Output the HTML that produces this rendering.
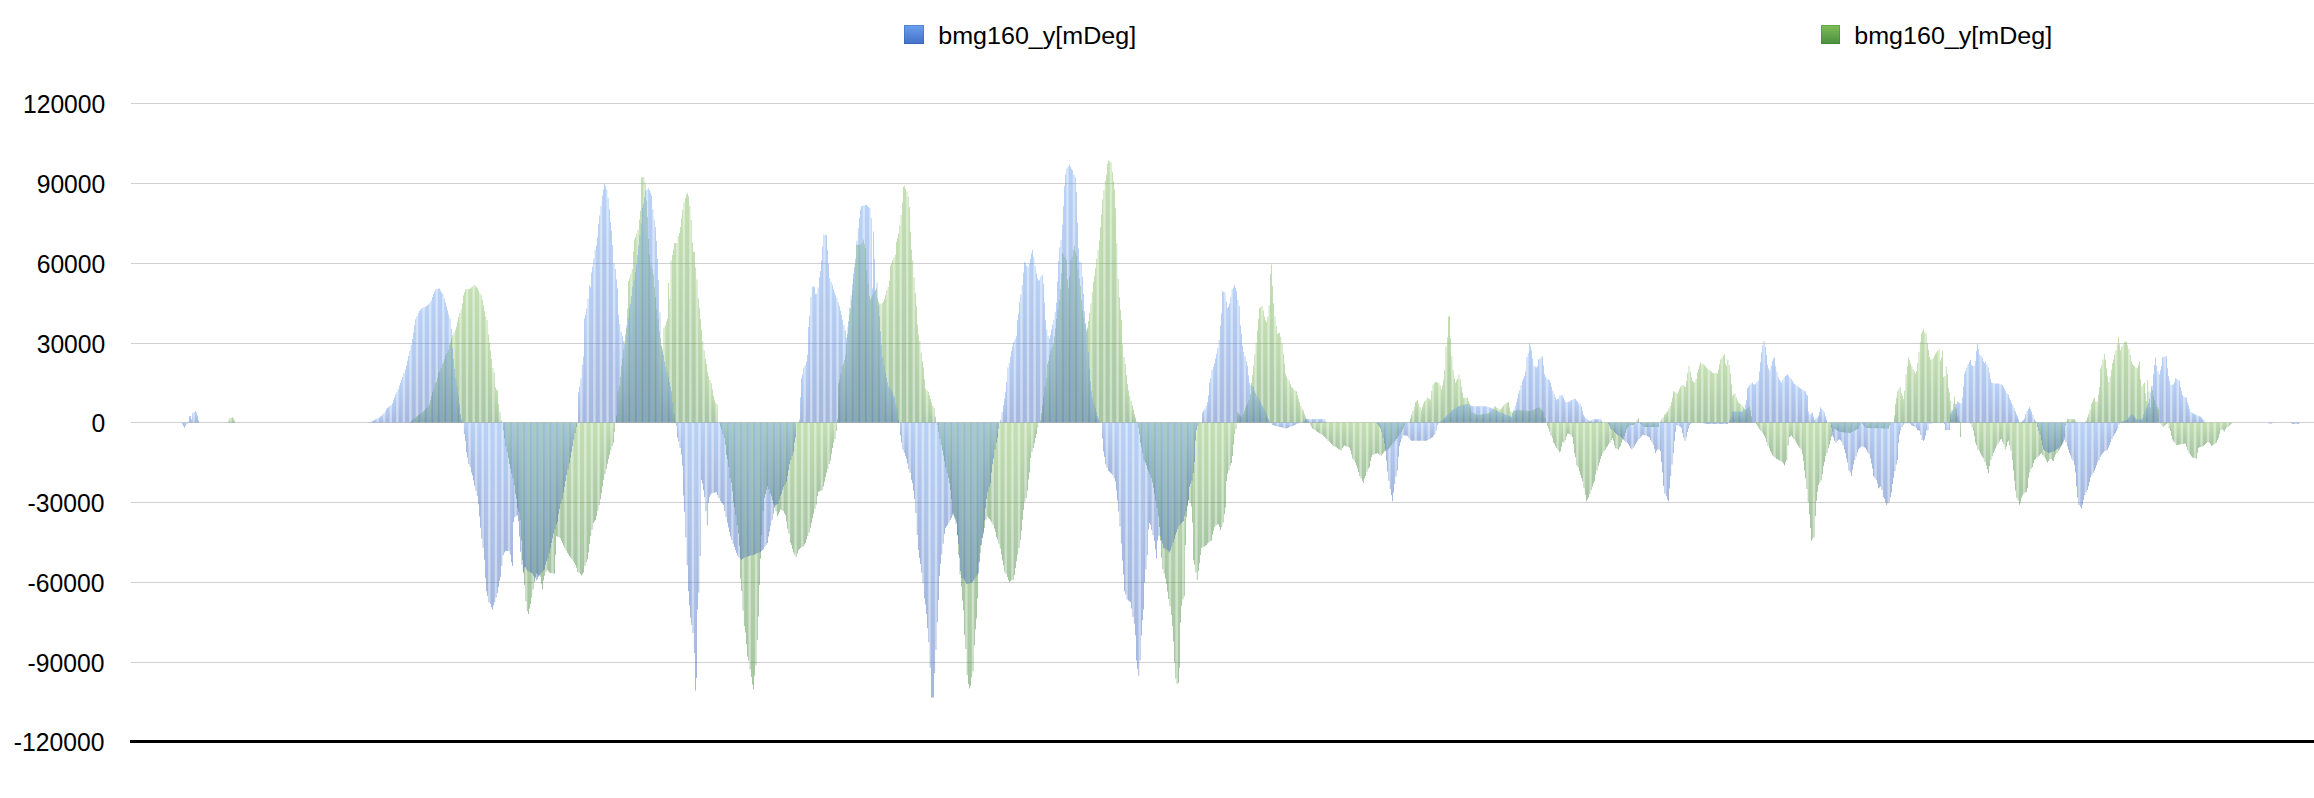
<!DOCTYPE html><html><head><meta charset="utf-8"><title>bmg160_y chart</title><style>html,body{margin:0;padding:0;background:#fff;overflow:hidden}svg{display:block}</style></head><body><svg width="2314" height="798" viewBox="0 0 2314 798"><defs><linearGradient id="bb" x1="0" y1="0" x2="0" y2="1"><stop offset="0" stop-color="#649bec"/><stop offset="1" stop-color="#3660b8"/></linearGradient><linearGradient id="gg" x1="0" y1="0" x2="0" y2="1"><stop offset="0" stop-color="#7db955"/><stop offset="1" stop-color="#3a8032"/></linearGradient><linearGradient id="lb" x1="0" y1="0" x2="0" y2="1"><stop offset="0" stop-color="#6ba0ee"/><stop offset="1" stop-color="#4470c6"/></linearGradient><linearGradient id="lg" x1="0" y1="0" x2="0" y2="1"><stop offset="0" stop-color="#80bc58"/><stop offset="1" stop-color="#4a8e3e"/></linearGradient></defs><rect width="2314" height="798" fill="#fff"/><g fill="#d0d0d0" shape-rendering="crispEdges"><rect x="131" y="103" width="2183" height="1"/><rect x="131" y="183" width="2183" height="1"/><rect x="131" y="263" width="2183" height="1"/><rect x="131" y="343" width="2183" height="1"/><rect x="131" y="422" width="2183" height="1"/><rect x="131" y="502" width="2183" height="1"/><rect x="131" y="582" width="2183" height="1"/><rect x="131" y="662" width="2183" height="1"/></g><g fill="url(#gg)" fill-opacity="1"><path d="M228.5 422.5V420.87h.45V422.5z"/><path d="M229.68 422.5V418h.45V422.5z"/><path d="M230.86 422.5V417.46h.45V422.5z"/><path d="M232.04 422.5V417h.45V422.5z"/><path d="M233.22 422.5V418.44h.45V422.5z"/><path d="M234.4 422.5V420.45h.45V422.5z"/><path d="M410.15 422.5V421.68h.45V422.5z"/><path d="M411.33 422.5V420.69h.45V422.5z"/><path d="M412.51 422.5V419.69h.45V422.5z"/><path d="M413.69 422.5V418.7h.45V422.5z"/><path d="M414.87 422.5V417.7h.45V422.5z"/><path d="M416.05 422.5V416.6h.45V422.5z"/><path d="M417.23 422.5V415.8h.45V422.5z"/><path d="M418.4 422.5V414.91h.45V422.5z"/><path d="M419.58 422.5V414.02h.45V422.5z"/><path d="M420.76 422.5V413.13h.45V422.5z"/><path d="M421.94 422.5V412.23h.45V422.5z"/><path d="M423.12 422.5V411.3h.45V422.5z"/><path d="M424.3 422.5V410.19h.45V422.5z"/><path d="M425.48 422.5V409.04h.45V422.5z"/><path d="M426.66 422.5V407.88h.45V422.5z"/><path d="M427.84 422.5V406.72h.45V422.5z"/><path d="M429.02 422.5V404.18h.45V422.5z"/><path d="M430.2 422.5V400.04h.45V422.5z"/><path d="M431.38 422.5V395.89h.45V422.5z"/><path d="M432.56 422.5V392.05h.45V422.5z"/><path d="M433.74 422.5V388.51h.45V422.5z"/><path d="M434.92 422.5V383.3h.45V422.5z"/><path d="M436.1 422.5V381.41h.45V422.5z"/><path d="M437.28 422.5V377.84h.45V422.5z"/><path d="M438.46 422.5V372.7h.45V422.5z"/><path d="M439.64 422.5V371.06h.45V422.5z"/><path d="M440.82 422.5V368.12h.45V422.5z"/><path d="M442 422.5V364h.45V422.5z"/><path d="M443.17 422.5V362.24h.45V422.5z"/><path d="M444.35 422.5V359.27h.45V422.5z"/><path d="M445.53 422.5V355.2h.45V422.5z"/><path d="M446.71 422.5V353.05h.45V422.5z"/><path d="M447.89 422.5V349.61h.45V422.5z"/><path d="M449.07 422.5V344.7h.45V422.5z"/><path d="M450.25 422.5V342.41h.45V422.5z"/><path d="M451.43 422.5V338.42h.45V422.5z"/><path d="M452.61 422.5V335.03h.45V422.5z"/><path d="M453.79 422.5V332.67h.45V422.5z"/><path d="M454.97 422.5V330.31h.45V422.5z"/><path d="M456.15 422.5V326.82h.45V422.5z"/><path d="M457.33 422.5V321.65h.45V422.5z"/><path d="M458.51 422.5V316.74h.45V422.5z"/><path d="M459.69 422.5V312.89h.45V422.5z"/><path d="M460.87 422.5V308.7h.45V422.5z"/><path d="M462.05 422.5V303.26h.45V422.5z"/><path d="M463.23 422.5V295.5h.45V422.5z"/><path d="M464.41 422.5V292.52h.45V422.5z"/><path d="M465.59 422.5V289.35h.45V422.5z"/><path d="M466.77 422.5V289.15h.45V422.5z"/><path d="M467.95 422.5V288.95h.45V422.5z"/><path d="M469.12 422.5V288.75h.45V422.5z"/><path d="M470.3 422.5V288.5h.45V422.5z"/><path d="M471.48 422.5V287.59h.45V422.5z"/><path d="M472.66 422.5V286.41h.45V422.5z"/><path d="M473.84 422.5V285h.45V422.5z"/><path d="M475.02 422.5V285.95h.45V422.5z"/><path d="M476.2 422.5V287.13h.45V422.5z"/><path d="M477.38 422.5V288.31h.45V422.5z"/><path d="M478.56 422.5V290.47h.45V422.5z"/><path d="M479.74 422.5V292.83h.45V422.5z"/><path d="M480.92 422.5V295.19h.45V422.5z"/><path d="M482.1 422.5V300.17h.45V422.5z"/><path d="M483.28 422.5V305.54h.45V422.5z"/><path d="M484.46 422.5V311.03h.45V422.5z"/><path d="M485.64 422.5V316.61h.45V422.5z"/><path d="M486.82 422.5V320.1h.45V422.5z"/><path d="M488 422.5V334.34h.45V422.5z"/><path d="M489.18 422.5V342.64h.45V422.5z"/><path d="M490.36 422.5V350.58h.45V422.5z"/><path d="M491.54 422.5V359.05h.45V422.5z"/><path d="M492.72 422.5V367.8h.45V422.5z"/><path d="M493.89 422.5V372.7h.45V422.5z"/><path d="M495.07 422.5V387.62h.45V422.5z"/><path d="M496.25 422.5V389.64h.45V422.5z"/><path d="M497.43 422.5V390.3h.45V422.5z"/><path d="M498.61 422.5V403.82h.45V422.5z"/><path d="M499.79 422.5V412.12h.45V422.5z"/><path d="M500.97 422.5V420.38h.45V422.5z"/><path d="M503.33 422.5V430.36h.45V422.5z"/><path d="M504.51 422.5V438.38h.45V422.5z"/><path d="M505.69 422.5V446.38h.45V422.5z"/><path d="M506.87 422.5V452.31h.45V422.5z"/><path d="M508.05 422.5V458.24h.45V422.5z"/><path d="M509.23 422.5V464.12h.45V422.5z"/><path d="M510.41 422.5V468.83h.45V422.5z"/><path d="M511.59 422.5V473.55h.45V422.5z"/><path d="M512.77 422.5V478.44h.45V422.5z"/><path d="M513.95 422.5V485.34h.45V422.5z"/><path d="M515.13 422.5V493.7h.45V422.5z"/><path d="M516.31 422.5V498.71h.45V422.5z"/><path d="M517.49 422.5V507.7h.45V422.5z"/><path d="M518.67 422.5V511.76h.45V422.5z"/><path d="M519.84 422.5V519.67h.45V422.5z"/><path d="M521.02 422.5V540.49h.45V422.5z"/><path d="M522.2 422.5V560h.45V422.5z"/><path d="M523.38 422.5V573.2h.45V422.5z"/><path d="M524.56 422.5V585.1h.45V422.5z"/><path d="M525.74 422.5V601.41h.45V422.5z"/><path d="M526.92 422.5V611.3h.45V422.5z"/><path d="M528.1 422.5V614h.45V422.5z"/><path d="M529.28 422.5V608.41h.45V422.5z"/><path d="M530.46 422.5V604h.45V422.5z"/><path d="M531.64 422.5V597.74h.45V422.5z"/><path d="M532.82 422.5V589.59h.45V422.5z"/><path d="M534 422.5V582.3h.45V422.5z"/><path d="M535.18 422.5V577.57h.45V422.5z"/><path d="M536.36 422.5V573.59h.45V422.5z"/><path d="M537.54 422.5V574.26h.45V422.5z"/><path d="M538.72 422.5V575.44h.45V422.5z"/><path d="M539.9 422.5V576.8h.45V422.5z"/><path d="M541.08 422.5V583.86h.45V422.5z"/><path d="M542.26 422.5V589.5h.45V422.5z"/><path d="M543.44 422.5V580.55h.45V422.5z"/><path d="M544.61 422.5V575.77h.45V422.5z"/><path d="M545.79 422.5V571.79h.45V422.5z"/><path d="M546.97 422.5V570.01h.45V422.5z"/><path d="M548.15 422.5V571.23h.45V422.5z"/><path d="M549.33 422.5V572.44h.45V422.5z"/><path d="M550.51 422.5V573.2h.45V422.5z"/><path d="M551.69 422.5V573.2h.45V422.5z"/><path d="M552.87 422.5V573.25h.45V422.5z"/><path d="M554.05 422.5V574h.45V422.5z"/><path d="M555.23 422.5V555h.45V422.5z"/><path d="M556.41 422.5V536.24h.45V422.5z"/><path d="M557.59 422.5V536.67h.45V422.5z"/><path d="M558.77 422.5V537.3h.45V422.5z"/><path d="M559.95 422.5V538.6h.45V422.5z"/><path d="M561.13 422.5V540.89h.45V422.5z"/><path d="M562.31 422.5V543.3h.45V422.5z"/><path d="M563.49 422.5V545.58h.45V422.5z"/><path d="M564.67 422.5V547.99h.45V422.5z"/><path d="M565.85 422.5V550.4h.45V422.5z"/><path d="M567.03 422.5V552.65h.45V422.5z"/><path d="M568.21 422.5V554.3h.45V422.5z"/><path d="M569.39 422.5V555.94h.45V422.5z"/><path d="M570.56 422.5V557.6h.45V422.5z"/><path d="M571.74 422.5V559.37h.45V422.5z"/><path d="M572.92 422.5V561.15h.45V422.5z"/><path d="M574.1 422.5V562.93h.45V422.5z"/><path d="M575.28 422.5V564.92h.45V422.5z"/><path d="M576.46 422.5V567.87h.45V422.5z"/><path d="M577.64 422.5V571.9h.45V422.5z"/><path d="M578.82 422.5V572.71h.45V422.5z"/><path d="M580 422.5V574h.45V422.5z"/><path d="M581.18 422.5V575.6h.45V422.5z"/><path d="M582.36 422.5V574.2h.45V422.5z"/><path d="M583.54 422.5V572.6h.45V422.5z"/><path d="M584.72 422.5V565.79h.45V422.5z"/><path d="M585.9 422.5V562.33h.45V422.5z"/><path d="M587.08 422.5V559.25h.45V422.5z"/><path d="M588.26 422.5V552.5h.45V422.5z"/><path d="M589.44 422.5V543.76h.45V422.5z"/><path d="M590.62 422.5V536.04h.45V422.5z"/><path d="M591.8 422.5V529.8h.45V422.5z"/><path d="M592.98 422.5V523h.45V422.5z"/><path d="M594.16 422.5V521.41h.45V422.5z"/><path d="M595.33 422.5V520.05h.45V422.5z"/><path d="M596.51 422.5V516.05h.45V422.5z"/><path d="M597.69 422.5V510.8h.45V422.5z"/><path d="M598.87 422.5V505.03h.45V422.5z"/><path d="M600.05 422.5V499.26h.45V422.5z"/><path d="M601.23 422.5V493.02h.45V422.5z"/><path d="M602.41 422.5V486.52h.45V422.5z"/><path d="M603.59 422.5V480.01h.45V422.5z"/><path d="M604.77 422.5V474.31h.45V422.5z"/><path d="M605.95 422.5V468.98h.45V422.5z"/><path d="M607.13 422.5V463.66h.45V422.5z"/><path d="M608.31 422.5V459.06h.45V422.5z"/><path d="M609.49 422.5V454.77h.45V422.5z"/><path d="M610.67 422.5V450.47h.45V422.5z"/><path d="M611.85 422.5V446.17h.45V422.5z"/><path d="M613.03 422.5V442.8h.45V422.5z"/><path d="M614.21 422.5V431.62h.45V422.5z"/><path d="M616.57 422.5V415.47h.45V422.5z"/><path d="M617.75 422.5V391.3h.45V422.5z"/><path d="M618.93 422.5V386.12h.45V422.5z"/><path d="M620.1 422.5V376.72h.45V422.5z"/><path d="M621.28 422.5V365.8h.45V422.5z"/><path d="M622.46 422.5V358.54h.45V422.5z"/><path d="M623.64 422.5V349.87h.45V422.5z"/><path d="M624.82 422.5V340.87h.45V422.5z"/><path d="M626 422.5V328h.45V422.5z"/><path d="M627.18 422.5V308.85h.45V422.5z"/><path d="M628.36 422.5V281.06h.45V422.5z"/><path d="M629.54 422.5V278.41h.45V422.5z"/><path d="M630.72 422.5V273.85h.45V422.5z"/><path d="M631.9 422.5V269h.45V422.5z"/><path d="M633.08 422.5V251.45h.45V422.5z"/><path d="M634.26 422.5V239.46h.45V422.5z"/><path d="M635.44 422.5V236.9h.45V422.5z"/><path d="M636.62 422.5V233.82h.45V422.5z"/><path d="M637.8 422.5V229.7h.45V422.5z"/><path d="M638.98 422.5V219.3h.45V422.5z"/><path d="M640.16 422.5V210.83h.45V422.5z"/><path d="M641.34 422.5V177.2h.45V422.5z"/><path d="M642.52 422.5V177.2h.45V422.5z"/><path d="M643.7 422.5V177.2h.45V422.5z"/><path d="M644.88 422.5V182.4h.45V422.5z"/><path d="M646.05 422.5V200.49h.45V422.5z"/><path d="M647.23 422.5V216.7h.45V422.5z"/><path d="M648.41 422.5V238.96h.45V422.5z"/><path d="M649.59 422.5V254.63h.45V422.5z"/><path d="M650.77 422.5V265.7h.45V422.5z"/><path d="M651.95 422.5V269.05h.45V422.5z"/><path d="M653.13 422.5V274.6h.45V422.5z"/><path d="M654.31 422.5V287.37h.45V422.5z"/><path d="M655.49 422.5V296.92h.45V422.5z"/><path d="M656.67 422.5V308.71h.45V422.5z"/><path d="M657.85 422.5V318.9h.45V422.5z"/><path d="M659.03 422.5V331.28h.45V422.5z"/><path d="M660.21 422.5V338.1h.45V422.5z"/><path d="M661.39 422.5V345.87h.45V422.5z"/><path d="M662.57 422.5V348.7h.45V422.5z"/><path d="M663.75 422.5V327.4h.45V422.5z"/><path d="M664.93 422.5V325.14h.45V422.5z"/><path d="M666.11 422.5V322h.45V422.5z"/><path d="M667.29 422.5V318.63h.45V422.5z"/><path d="M668.47 422.5V283h.45V422.5z"/><path d="M669.65 422.5V299.04h.45V422.5z"/><path d="M670.82 422.5V260.2h.45V422.5z"/><path d="M672 422.5V255h.45V422.5z"/><path d="M673.18 422.5V249.61h.45V422.5z"/><path d="M674.36 422.5V243h.45V422.5z"/><path d="M675.54 422.5V243h.45V422.5z"/><path d="M676.72 422.5V243h.45V422.5z"/><path d="M677.9 422.5V236h.45V422.5z"/><path d="M679.08 422.5V232.97h.45V422.5z"/><path d="M680.26 422.5V227h.45V422.5z"/><path d="M681.44 422.5V217.93h.45V422.5z"/><path d="M682.62 422.5V209.66h.45V422.5z"/><path d="M683.8 422.5V202.5h.45V422.5z"/><path d="M684.98 422.5V197.92h.45V422.5z"/><path d="M686.16 422.5V194.52h.45V422.5z"/><path d="M687.34 422.5V193h.45V422.5z"/><path d="M688.52 422.5V196.23h.45V422.5z"/><path d="M689.7 422.5V205.67h.45V422.5z"/><path d="M690.88 422.5V220h.45V422.5z"/><path d="M692.06 422.5V242.64h.45V422.5z"/><path d="M693.24 422.5V251.8h.45V422.5z"/><path d="M694.42 422.5V251.8h.45V422.5z"/><path d="M695.6 422.5V267.6h.45V422.5z"/><path d="M696.77 422.5V279.6h.45V422.5z"/><path d="M697.95 422.5V298.13h.45V422.5z"/><path d="M699.13 422.5V307.8h.45V422.5z"/><path d="M700.31 422.5V318.99h.45V422.5z"/><path d="M701.49 422.5V329.73h.45V422.5z"/><path d="M702.67 422.5V340.89h.45V422.5z"/><path d="M703.85 422.5V350.25h.45V422.5z"/><path d="M705.03 422.5V358.68h.45V422.5z"/><path d="M706.21 422.5V364h.45V422.5z"/><path d="M707.39 422.5V371.58h.45V422.5z"/><path d="M708.57 422.5V376.2h.45V422.5z"/><path d="M709.75 422.5V379.95h.45V422.5z"/><path d="M710.93 422.5V383.17h.45V422.5z"/><path d="M712.11 422.5V389.4h.45V422.5z"/><path d="M713.29 422.5V395.75h.45V422.5z"/><path d="M714.47 422.5V399.61h.45V422.5z"/><path d="M715.65 422.5V402.67h.45V422.5z"/><path d="M716.83 422.5V404.3h.45V422.5z"/><path d="M719.19 422.5V423.31h.45V422.5z"/><path d="M720.37 422.5V426.39h.45V422.5z"/><path d="M721.54 422.5V429.48h.45V422.5z"/><path d="M722.72 422.5V434h.45V422.5z"/><path d="M723.9 422.5V437.77h.45V422.5z"/><path d="M725.08 422.5V444.85h.45V422.5z"/><path d="M726.26 422.5V455h.45V422.5z"/><path d="M727.44 422.5V459.37h.45V422.5z"/><path d="M728.62 422.5V467.08h.45V422.5z"/><path d="M729.8 422.5V477.9h.45V422.5z"/><path d="M730.98 422.5V482.86h.45V422.5z"/><path d="M732.16 422.5V491.15h.45V422.5z"/><path d="M733.34 422.5V502.5h.45V422.5z"/><path d="M734.52 422.5V507.35h.45V422.5z"/><path d="M735.7 422.5V515.03h.45V422.5z"/><path d="M736.88 422.5V525.3h.45V422.5z"/><path d="M738.06 422.5V533.45h.45V422.5z"/><path d="M739.24 422.5V545.73h.45V422.5z"/><path d="M740.42 422.5V578.6h.45V422.5z"/><path d="M741.6 422.5V590.99h.45V422.5z"/><path d="M742.78 422.5V610.42h.45V422.5z"/><path d="M743.96 422.5V625.9h.45V422.5z"/><path d="M745.14 422.5V632.54h.45V422.5z"/><path d="M746.31 422.5V644.28h.45V422.5z"/><path d="M747.49 422.5V656.7h.45V422.5z"/><path d="M748.67 422.5V660.74h.45V422.5z"/><path d="M749.85 422.5V669.5h.45V422.5z"/><path d="M751.03 422.5V676.97h.45V422.5z"/><path d="M752.21 422.5V684.62h.45V422.5z"/><path d="M753.39 422.5V689.4h.45V422.5z"/><path d="M754.57 422.5V675.7h.45V422.5z"/><path d="M755.75 422.5V665.6h.45V422.5z"/><path d="M756.93 422.5V639.91h.45V422.5z"/><path d="M758.11 422.5V616.5h.45V422.5z"/><path d="M759.29 422.5V585.12h.45V422.5z"/><path d="M760.47 422.5V558.77h.45V422.5z"/><path d="M761.65 422.5V535.19h.45V422.5z"/><path d="M762.83 422.5V511.14h.45V422.5z"/><path d="M764.01 422.5V497.65h.45V422.5z"/><path d="M765.19 422.5V493.7h.45V422.5z"/><path d="M766.37 422.5V489.77h.45V422.5z"/><path d="M767.55 422.5V486.19h.45V422.5z"/><path d="M768.73 422.5V488.99h.45V422.5z"/><path d="M769.91 422.5V493.7h.45V422.5z"/><path d="M771.09 422.5V496.28h.45V422.5z"/><path d="M772.26 422.5V500.03h.45V422.5z"/><path d="M773.44 422.5V503.78h.45V422.5z"/><path d="M774.62 422.5V507.7h.45V422.5z"/><path d="M775.8 422.5V511.3h.45V422.5z"/><path d="M776.98 422.5V516h.45V422.5z"/><path d="M778.16 422.5V514.23h.45V422.5z"/><path d="M779.34 422.5V511.87h.45V422.5z"/><path d="M780.52 422.5V509.51h.45V422.5z"/><path d="M781.7 422.5V509.93h.45V422.5z"/><path d="M782.88 422.5V511.18h.45V422.5z"/><path d="M784.06 422.5V513.14h.45V422.5z"/><path d="M785.24 422.5V515.33h.45V422.5z"/><path d="M786.42 422.5V521.36h.45V422.5z"/><path d="M787.6 422.5V528.8h.45V422.5z"/><path d="M788.78 422.5V533.66h.45V422.5z"/><path d="M789.96 422.5V542.8h.45V422.5z"/><path d="M791.14 422.5V545.04h.45V422.5z"/><path d="M792.32 422.5V549.03h.45V422.5z"/><path d="M793.5 422.5V552.43h.45V422.5z"/><path d="M794.68 422.5V554.74h.45V422.5z"/><path d="M795.86 422.5V556.9h.45V422.5z"/><path d="M797.03 422.5V553.46h.45V422.5z"/><path d="M798.21 422.5V550.24h.45V422.5z"/><path d="M799.39 422.5V548.99h.45V422.5z"/><path d="M800.57 422.5V548.05h.45V422.5z"/><path d="M801.75 422.5V547.11h.45V422.5z"/><path d="M802.93 422.5V546.3h.45V422.5z"/><path d="M804.11 422.5V544.5h.45V422.5z"/><path d="M805.29 422.5V542.91h.45V422.5z"/><path d="M806.47 422.5V539.51h.45V422.5z"/><path d="M807.65 422.5V535.97h.45V422.5z"/><path d="M808.83 422.5V532.43h.45V422.5z"/><path d="M810.01 422.5V527.76h.45V422.5z"/><path d="M811.19 422.5V523.04h.45V422.5z"/><path d="M812.37 422.5V518.32h.45V422.5z"/><path d="M813.55 422.5V513.7h.45V422.5z"/><path d="M814.73 422.5V509.08h.45V422.5z"/><path d="M815.91 422.5V504.46h.45V422.5z"/><path d="M817.09 422.5V496.15h.45V422.5z"/><path d="M818.27 422.5V491.67h.45V422.5z"/><path d="M819.45 422.5V491.22h.45V422.5z"/><path d="M820.63 422.5V490.76h.45V422.5z"/><path d="M821.81 422.5V490.3h.45V422.5z"/><path d="M822.98 422.5V486.53h.45V422.5z"/><path d="M824.16 422.5V481.76h.45V422.5z"/><path d="M825.34 422.5V477.07h.45V422.5z"/><path d="M826.52 422.5V472.44h.45V422.5z"/><path d="M827.7 422.5V469.1h.45V422.5z"/><path d="M828.88 422.5V464.06h.45V422.5z"/><path d="M830.06 422.5V460.4h.45V422.5z"/><path d="M831.24 422.5V453.84h.45V422.5z"/><path d="M832.42 422.5V447.95h.45V422.5z"/><path d="M833.6 422.5V442.8h.45V422.5z"/><path d="M834.78 422.5V438.96h.45V422.5z"/><path d="M835.96 422.5V430.65h.45V422.5z"/><path d="M837.14 422.5V418.93h.45V422.5z"/><path d="M838.32 422.5V383.3h.45V422.5z"/><path d="M839.5 422.5V379.66h.45V422.5z"/><path d="M840.68 422.5V373.73h.45V422.5z"/><path d="M841.86 422.5V365.7h.45V422.5z"/><path d="M843.04 422.5V363.41h.45V422.5z"/><path d="M844.22 422.5V359.88h.45V422.5z"/><path d="M845.4 422.5V355.2h.45V422.5z"/><path d="M846.58 422.5V342.82h.45V422.5z"/><path d="M847.75 422.5V326.71h.45V422.5z"/><path d="M848.93 422.5V314.8h.45V422.5z"/><path d="M850.11 422.5V308.73h.45V422.5z"/><path d="M851.29 422.5V300.34h.45V422.5z"/><path d="M852.47 422.5V290.3h.45V422.5z"/><path d="M853.65 422.5V278.89h.45V422.5z"/><path d="M854.83 422.5V263.56h.45V422.5z"/><path d="M856.01 422.5V244.8h.45V422.5z"/><path d="M857.19 422.5V244.8h.45V422.5z"/><path d="M858.37 422.5V244.8h.45V422.5z"/><path d="M859.55 422.5V244.8h.45V422.5z"/><path d="M860.73 422.5V244.69h.45V422.5z"/><path d="M861.91 422.5V242.28h.45V422.5z"/><path d="M863.09 422.5V239.5h.45V422.5z"/><path d="M864.27 422.5V244.36h.45V422.5z"/><path d="M865.45 422.5V248.3h.45V422.5z"/><path d="M866.63 422.5V270.67h.45V422.5z"/><path d="M867.81 422.5V283.5h.45V422.5z"/><path d="M868.99 422.5V295.73h.45V422.5z"/><path d="M870.17 422.5V299.41h.45V422.5z"/><path d="M871.35 422.5V297.03h.45V422.5z"/><path d="M872.53 422.5V294.65h.45V422.5z"/><path d="M873.7 422.5V292.27h.45V422.5z"/><path d="M874.88 422.5V289.89h.45V422.5z"/><path d="M876.06 422.5V288.5h.45V422.5z"/><path d="M877.24 422.5V298.23h.45V422.5z"/><path d="M878.42 422.5V301.14h.45V422.5z"/><path d="M879.6 422.5V303.54h.45V422.5z"/><path d="M880.78 422.5V303.74h.45V422.5z"/><path d="M881.96 422.5V302.92h.45V422.5z"/><path d="M883.14 422.5V301.4h.45V422.5z"/><path d="M884.32 422.5V299h.45V422.5z"/><path d="M885.5 422.5V295.24h.45V422.5z"/><path d="M886.68 422.5V290.3h.45V422.5z"/><path d="M887.86 422.5V286.91h.45V422.5z"/><path d="M889.04 422.5V280.67h.45V422.5z"/><path d="M890.22 422.5V265.8h.45V422.5z"/><path d="M891.4 422.5V263.41h.45V422.5z"/><path d="M892.58 422.5V260.35h.45V422.5z"/><path d="M893.76 422.5V257.6h.45V422.5z"/><path d="M894.94 422.5V254.72h.45V422.5z"/><path d="M896.12 422.5V242.1h.45V422.5z"/><path d="M897.3 422.5V238.26h.45V422.5z"/><path d="M898.47 422.5V233.58h.45V422.5z"/><path d="M899.65 422.5V225.5h.45V422.5z"/><path d="M900.83 422.5V215h.45V422.5z"/><path d="M902.01 422.5V202.6h.45V422.5z"/><path d="M903.19 422.5V186.8h.45V422.5z"/><path d="M904.37 422.5V186h.45V422.5z"/><path d="M905.55 422.5V188.99h.45V422.5z"/><path d="M906.73 422.5V191.2h.45V422.5z"/><path d="M907.91 422.5V196.84h.45V422.5z"/><path d="M909.09 422.5V207.05h.45V422.5z"/><path d="M910.27 422.5V231.83h.45V422.5z"/><path d="M911.45 422.5V249.51h.45V422.5z"/><path d="M912.63 422.5V260.5h.45V422.5z"/><path d="M913.81 422.5V277.2h.45V422.5z"/><path d="M914.99 422.5V293.08h.45V422.5z"/><path d="M916.17 422.5V306h.45V422.5z"/><path d="M917.35 422.5V324.49h.45V422.5z"/><path d="M918.53 422.5V334.67h.45V422.5z"/><path d="M919.71 422.5V341.1h.45V422.5z"/><path d="M920.89 422.5V352.8h.45V422.5z"/><path d="M922.07 422.5V361.28h.45V422.5z"/><path d="M923.24 422.5V367.5h.45V422.5z"/><path d="M924.42 422.5V379.21h.45V422.5z"/><path d="M925.6 422.5V388.5h.45V422.5z"/><path d="M926.78 422.5V390.13h.45V422.5z"/><path d="M927.96 422.5V391.71h.45V422.5z"/><path d="M929.14 422.5V395.15h.45V422.5z"/><path d="M930.32 422.5V399h.45V422.5z"/><path d="M931.5 422.5V402.49h.45V422.5z"/><path d="M932.68 422.5V405.66h.45V422.5z"/><path d="M933.86 422.5V407.8h.45V422.5z"/><path d="M935.04 422.5V416.65h.45V422.5z"/><path d="M937.4 422.5V424.96h.45V422.5z"/><path d="M938.58 422.5V431.8h.45V422.5z"/><path d="M939.76 422.5V438.64h.45V422.5z"/><path d="M940.94 422.5V444.89h.45V422.5z"/><path d="M942.12 422.5V450.21h.45V422.5z"/><path d="M943.3 422.5V455.54h.45V422.5z"/><path d="M944.48 422.5V461.2h.45V422.5z"/><path d="M945.66 422.5V467.32h.45V422.5z"/><path d="M946.84 422.5V473.25h.45V422.5z"/><path d="M948.02 422.5V478.06h.45V422.5z"/><path d="M949.19 422.5V483.2h.45V422.5z"/><path d="M950.37 422.5V489.88h.45V422.5z"/><path d="M951.55 422.5V499h.45V422.5z"/><path d="M952.73 422.5V513h.45V422.5z"/><path d="M953.91 422.5V516.35h.45V422.5z"/><path d="M955.09 422.5V519.37h.45V422.5z"/><path d="M956.27 422.5V521.8h.45V422.5z"/><path d="M957.45 422.5V535.53h.45V422.5z"/><path d="M958.63 422.5V555h.45V422.5z"/><path d="M959.81 422.5V574.57h.45V422.5z"/><path d="M960.99 422.5V586.47h.45V422.5z"/><path d="M962.17 422.5V600.4h.45V422.5z"/><path d="M963.35 422.5V610.25h.45V422.5z"/><path d="M964.53 422.5V635h.45V422.5z"/><path d="M965.71 422.5V649.04h.45V422.5z"/><path d="M966.89 422.5V675h.45V422.5z"/><path d="M968.07 422.5V683.91h.45V422.5z"/><path d="M969.25 422.5V688.5h.45V422.5z"/><path d="M970.43 422.5V686.01h.45V422.5z"/><path d="M971.61 422.5V677.5h.45V422.5z"/><path d="M972.79 422.5V671.3h.45V422.5z"/><path d="M973.96 422.5V645.6h.45V422.5z"/><path d="M975.14 422.5V629.49h.45V422.5z"/><path d="M976.32 422.5V618.6h.45V422.5z"/><path d="M977.5 422.5V598.6h.45V422.5z"/><path d="M978.68 422.5V562.93h.45V422.5z"/><path d="M979.86 422.5V553.29h.45V422.5z"/><path d="M981.04 422.5V544.93h.45V422.5z"/><path d="M982.22 422.5V538.32h.45V422.5z"/><path d="M983.4 422.5V531.75h.45V422.5z"/><path d="M984.58 422.5V528h.45V422.5z"/><path d="M985.76 422.5V519.57h.45V422.5z"/><path d="M986.94 422.5V516.83h.45V422.5z"/><path d="M988.12 422.5V517.84h.45V422.5z"/><path d="M989.3 422.5V519.04h.45V422.5z"/><path d="M990.48 422.5V520.79h.45V422.5z"/><path d="M991.66 422.5V522.54h.45V422.5z"/><path d="M992.84 422.5V524.98h.45V422.5z"/><path d="M994.02 422.5V528.49h.45V422.5z"/><path d="M995.2 422.5V532h.45V422.5z"/><path d="M996.38 422.5V537h.45V422.5z"/><path d="M997.56 422.5V539.51h.45V422.5z"/><path d="M998.74 422.5V543.86h.45V422.5z"/><path d="M999.91 422.5V548.43h.45V422.5z"/><path d="M1001.09 422.5V554.58h.45V422.5z"/><path d="M1002.27 422.5V560.49h.45V422.5z"/><path d="M1003.45 422.5V565.21h.45V422.5z"/><path d="M1004.63 422.5V571.7h.45V422.5z"/><path d="M1005.81 422.5V573.76h.45V422.5z"/><path d="M1006.99 422.5V577.05h.45V422.5z"/><path d="M1008.17 422.5V580.34h.45V422.5z"/><path d="M1009.35 422.5V582.3h.45V422.5z"/><path d="M1010.53 422.5V581.16h.45V422.5z"/><path d="M1011.71 422.5V580.35h.45V422.5z"/><path d="M1012.89 422.5V579.53h.45V422.5z"/><path d="M1014.07 422.5V575.04h.45V422.5z"/><path d="M1015.25 422.5V567.96h.45V422.5z"/><path d="M1016.43 422.5V561.2h.45V422.5z"/><path d="M1017.61 422.5V554.42h.45V422.5z"/><path d="M1018.79 422.5V547.93h.45V422.5z"/><path d="M1019.97 422.5V540.04h.45V422.5z"/><path d="M1021.15 422.5V530.76h.45V422.5z"/><path d="M1022.33 422.5V519.4h.45V422.5z"/><path d="M1023.51 422.5V510h.45V422.5z"/><path d="M1024.68 422.5V501.76h.45V422.5z"/><path d="M1025.86 422.5V498h.45V422.5z"/><path d="M1027.04 422.5V490.5h.45V422.5z"/><path d="M1028.22 422.5V479.53h.45V422.5z"/><path d="M1029.4 422.5V472.6h.45V422.5z"/><path d="M1030.58 422.5V457.94h.45V422.5z"/><path d="M1031.76 422.5V452.1h.45V422.5z"/><path d="M1032.94 422.5V448.11h.45V422.5z"/><path d="M1034.12 422.5V443.36h.45V422.5z"/><path d="M1035.3 422.5V437.98h.45V422.5z"/><path d="M1036.48 422.5V434h.45V422.5z"/><path d="M1037.66 422.5V427.43h.45V422.5z"/><path d="M1040.02 422.5V420.33h.45V422.5z"/><path d="M1041.2 422.5V412.89h.45V422.5z"/><path d="M1042.38 422.5V405.34h.45V422.5z"/><path d="M1043.56 422.5V396.58h.45V422.5z"/><path d="M1044.74 422.5V386.8h.45V422.5z"/><path d="M1045.92 422.5V378.01h.45V422.5z"/><path d="M1047.1 422.5V364h.45V422.5z"/><path d="M1048.28 422.5V360.69h.45V422.5z"/><path d="M1049.46 422.5V355.11h.45V422.5z"/><path d="M1050.63 422.5V350.46h.45V422.5z"/><path d="M1051.81 422.5V347.29h.45V422.5z"/><path d="M1052.99 422.5V343.42h.45V422.5z"/><path d="M1054.17 422.5V336.52h.45V422.5z"/><path d="M1055.35 422.5V328.38h.45V422.5z"/><path d="M1056.53 422.5V318.94h.45V422.5z"/><path d="M1057.71 422.5V309.51h.45V422.5z"/><path d="M1058.89 422.5V300.07h.45V422.5z"/><path d="M1060.07 422.5V289.06h.45V422.5z"/><path d="M1061.25 422.5V273.33h.45V422.5z"/><path d="M1062.43 422.5V253h.45V422.5z"/><path d="M1063.61 422.5V254.67h.45V422.5z"/><path d="M1064.79 422.5V257.03h.45V422.5z"/><path d="M1065.97 422.5V259.39h.45V422.5z"/><path d="M1067.15 422.5V279.21h.45V422.5z"/><path d="M1068.33 422.5V287.79h.45V422.5z"/><path d="M1069.51 422.5V276.67h.45V422.5z"/><path d="M1070.69 422.5V260h.45V422.5z"/><path d="M1071.87 422.5V256.69h.45V422.5z"/><path d="M1073.05 422.5V250.08h.45V422.5z"/><path d="M1074.23 422.5V246h.45V422.5z"/><path d="M1075.4 422.5V252.52h.45V422.5z"/><path d="M1076.58 422.5V256h.45V422.5z"/><path d="M1077.76 422.5V268.76h.45V422.5z"/><path d="M1078.94 422.5V278.87h.45V422.5z"/><path d="M1080.12 422.5V286h.45V422.5z"/><path d="M1081.3 422.5V299.75h.45V422.5z"/><path d="M1082.48 422.5V310.36h.45V422.5z"/><path d="M1083.66 422.5V318.07h.45V422.5z"/><path d="M1084.84 422.5V324.81h.45V422.5z"/><path d="M1086.02 422.5V331.55h.45V422.5z"/><path d="M1087.2 422.5V327.71h.45V422.5z"/><path d="M1088.38 422.5V320.97h.45V422.5z"/><path d="M1089.56 422.5V313h.45V422.5z"/><path d="M1090.74 422.5V303.49h.45V422.5z"/><path d="M1091.92 422.5V291.85h.45V422.5z"/><path d="M1093.1 422.5V281.77h.45V422.5z"/><path d="M1094.28 422.5V275.82h.45V422.5z"/><path d="M1095.46 422.5V268.27h.45V422.5z"/><path d="M1096.64 422.5V258.8h.45V422.5z"/><path d="M1097.82 422.5V249.93h.45V422.5z"/><path d="M1099 422.5V240.44h.45V422.5z"/><path d="M1100.17 422.5V227.2h.45V422.5z"/><path d="M1101.35 422.5V214.51h.45V422.5z"/><path d="M1102.53 422.5V199.49h.45V422.5z"/><path d="M1103.71 422.5V190.26h.45V422.5z"/><path d="M1104.89 422.5V180.7h.45V422.5z"/><path d="M1106.07 422.5V174.83h.45V422.5z"/><path d="M1107.25 422.5V163.85h.45V422.5z"/><path d="M1108.43 422.5V160.5h.45V422.5z"/><path d="M1109.61 422.5V161.14h.45V422.5z"/><path d="M1110.79 422.5V162.3h.45V422.5z"/><path d="M1111.97 422.5V172.14h.45V422.5z"/><path d="M1113.15 422.5V181.54h.45V422.5z"/><path d="M1114.33 422.5V189.5h.45V422.5z"/><path d="M1115.51 422.5V207.89h.45V422.5z"/><path d="M1116.69 422.5V243.32h.45V422.5z"/><path d="M1117.87 422.5V278.89h.45V422.5z"/><path d="M1119.05 422.5V297.19h.45V422.5z"/><path d="M1120.23 422.5V309.85h.45V422.5z"/><path d="M1121.41 422.5V320.1h.45V422.5z"/><path d="M1122.59 422.5V344.47h.45V422.5z"/><path d="M1123.77 422.5V357.1h.45V422.5z"/><path d="M1124.95 422.5V364h.45V422.5z"/><path d="M1126.12 422.5V375.12h.45V422.5z"/><path d="M1127.3 422.5V383.67h.45V422.5z"/><path d="M1128.48 422.5V390.3h.45V422.5z"/><path d="M1129.66 422.5V395.91h.45V422.5z"/><path d="M1130.84 422.5V400.67h.45V422.5z"/><path d="M1132.02 422.5V405.26h.45V422.5z"/><path d="M1133.2 422.5V409.85h.45V422.5z"/><path d="M1134.38 422.5V413.88h.45V422.5z"/><path d="M1135.56 422.5V417.66h.45V422.5z"/><path d="M1136.74 422.5V421.43h.45V422.5z"/><path d="M1137.92 422.5V427.4h.45V422.5z"/><path d="M1139.1 422.5V434.24h.45V422.5z"/><path d="M1140.28 422.5V442.8h.45V422.5z"/><path d="M1141.46 422.5V447.24h.45V422.5z"/><path d="M1142.64 422.5V453.17h.45V422.5z"/><path d="M1143.82 422.5V460.4h.45V422.5z"/><path d="M1145 422.5V462.69h.45V422.5z"/><path d="M1146.18 422.5V465.62h.45V422.5z"/><path d="M1147.36 422.5V469.1h.45V422.5z"/><path d="M1148.54 422.5V471.52h.45V422.5z"/><path d="M1149.72 422.5V474.48h.45V422.5z"/><path d="M1150.89 422.5V477.9h.45V422.5z"/><path d="M1152.07 422.5V482.41h.45V422.5z"/><path d="M1153.25 422.5V487.74h.45V422.5z"/><path d="M1154.43 422.5V493.7h.45V422.5z"/><path d="M1155.61 422.5V500.46h.45V422.5z"/><path d="M1156.79 422.5V508.15h.45V422.5z"/><path d="M1157.97 422.5V516.5h.45V422.5z"/><path d="M1159.15 422.5V526.97h.45V422.5z"/><path d="M1160.33 422.5V540.84h.45V422.5z"/><path d="M1161.51 422.5V557.72h.45V422.5z"/><path d="M1162.69 422.5V568.98h.45V422.5z"/><path d="M1163.87 422.5V573.76h.45V422.5z"/><path d="M1165.05 422.5V578.54h.45V422.5z"/><path d="M1166.23 422.5V583.7h.45V422.5z"/><path d="M1167.41 422.5V591.4h.45V422.5z"/><path d="M1168.59 422.5V599.01h.45V422.5z"/><path d="M1169.77 422.5V606.3h.45V422.5z"/><path d="M1170.95 422.5V615h.45V422.5z"/><path d="M1172.13 422.5V626.3h.45V422.5z"/><path d="M1173.31 422.5V641.4h.45V422.5z"/><path d="M1174.49 422.5V662.7h.45V422.5z"/><path d="M1175.67 422.5V678.7h.45V422.5z"/><path d="M1176.84 422.5V684h.45V422.5z"/><path d="M1178.02 422.5V682.7h.45V422.5z"/><path d="M1179.2 422.5V667.7h.45V422.5z"/><path d="M1180.38 422.5V622.6h.45V422.5z"/><path d="M1181.56 422.5V605.82h.45V422.5z"/><path d="M1182.74 422.5V599.56h.45V422.5z"/><path d="M1183.92 422.5V596.2h.45V422.5z"/><path d="M1185.1 422.5V545.1h.45V422.5z"/><path d="M1186.28 422.5V516.89h.45V422.5z"/><path d="M1187.46 422.5V506.43h.45V422.5z"/><path d="M1188.64 422.5V500.7h.45V422.5z"/><path d="M1189.82 422.5V502.97h.45V422.5z"/><path d="M1191 422.5V506.46h.45V422.5z"/><path d="M1192.18 422.5V522.6h.45V422.5z"/><path d="M1193.36 422.5V560.2h.45V422.5z"/><path d="M1194.54 422.5V564.51h.45V422.5z"/><path d="M1195.72 422.5V572.17h.45V422.5z"/><path d="M1196.9 422.5V579.7h.45V422.5z"/><path d="M1198.08 422.5V571.08h.45V422.5z"/><path d="M1199.26 422.5V563.2h.45V422.5z"/><path d="M1200.44 422.5V554.93h.45V422.5z"/><path d="M1201.61 422.5V548.1h.45V422.5z"/><path d="M1202.79 422.5V547.22h.45V422.5z"/><path d="M1203.97 422.5V546.43h.45V422.5z"/><path d="M1205.15 422.5V545.65h.45V422.5z"/><path d="M1206.33 422.5V545.1h.45V422.5z"/><path d="M1207.51 422.5V543.56h.45V422.5z"/><path d="M1208.69 422.5V542.38h.45V422.5z"/><path d="M1209.87 422.5V541.2h.45V422.5z"/><path d="M1211.05 422.5V540.6h.45V422.5z"/><path d="M1212.23 422.5V534.75h.45V422.5z"/><path d="M1213.41 422.5V530.82h.45V422.5z"/><path d="M1214.59 422.5V526.88h.45V422.5z"/><path d="M1215.77 422.5V525.2h.45V422.5z"/><path d="M1216.95 422.5V524.61h.45V422.5z"/><path d="M1218.13 422.5V524.41h.45V422.5z"/><path d="M1219.31 422.5V526.77h.45V422.5z"/><path d="M1220.49 422.5V530.1h.45V422.5z"/><path d="M1221.67 422.5V527.36h.45V422.5z"/><path d="M1222.85 422.5V522.7h.45V422.5z"/><path d="M1224.03 422.5V514.24h.45V422.5z"/><path d="M1225.21 422.5V507.5h.45V422.5z"/><path d="M1226.39 422.5V480.89h.45V422.5z"/><path d="M1227.56 422.5V473.76h.45V422.5z"/><path d="M1228.74 422.5V470.6h.45V422.5z"/><path d="M1229.92 422.5V465.55h.45V422.5z"/><path d="M1231.1 422.5V463.08h.45V422.5z"/><path d="M1232.28 422.5V455.96h.45V422.5z"/><path d="M1233.46 422.5V444.43h.45V422.5z"/><path d="M1234.64 422.5V434.06h.45V422.5z"/><path d="M1235.82 422.5V428.5h.45V422.5z"/><path d="M1237 422.5V412.6h.45V422.5z"/><path d="M1238.18 422.5V413.23h.45V422.5z"/><path d="M1239.36 422.5V414.47h.45V422.5z"/><path d="M1240.54 422.5V415.71h.45V422.5z"/><path d="M1241.72 422.5V416.94h.45V422.5z"/><path d="M1242.9 422.5V413.98h.45V422.5z"/><path d="M1244.08 422.5V410.81h.45V422.5z"/><path d="M1245.26 422.5V407.84h.45V422.5z"/><path d="M1246.44 422.5V405.51h.45V422.5z"/><path d="M1247.62 422.5V403.18h.45V422.5z"/><path d="M1248.8 422.5V399.9h.45V422.5z"/><path d="M1249.98 422.5V394.19h.45V422.5z"/><path d="M1251.16 422.5V382.8h.45V422.5z"/><path d="M1252.33 422.5V375.03h.45V422.5z"/><path d="M1253.51 422.5V365.42h.45V422.5z"/><path d="M1254.69 422.5V354h.45V422.5z"/><path d="M1255.87 422.5V342.49h.45V422.5z"/><path d="M1257.05 422.5V330.52h.45V422.5z"/><path d="M1258.23 422.5V319.19h.45V422.5z"/><path d="M1259.41 422.5V308.3h.45V422.5z"/><path d="M1260.59 422.5V307.36h.45V422.5z"/><path d="M1261.77 422.5V306.1h.45V422.5z"/><path d="M1262.95 422.5V310.56h.45V422.5z"/><path d="M1264.13 422.5V316.57h.45V422.5z"/><path d="M1265.31 422.5V320.26h.45V422.5z"/><path d="M1266.49 422.5V322.16h.45V422.5z"/><path d="M1267.67 422.5V316.42h.45V422.5z"/><path d="M1268.85 422.5V305.33h.45V422.5z"/><path d="M1270.03 422.5V274.2h.45V422.5z"/><path d="M1271.21 422.5V264.6h.45V422.5z"/><path d="M1272.39 422.5V285.78h.45V422.5z"/><path d="M1273.57 422.5V303.27h.45V422.5z"/><path d="M1274.75 422.5V316.47h.45V422.5z"/><path d="M1275.93 422.5V325.69h.45V422.5z"/><path d="M1277.1 422.5V333.74h.45V422.5z"/><path d="M1278.28 422.5V333.18h.45V422.5z"/><path d="M1279.46 422.5V332.8h.45V422.5z"/><path d="M1280.64 422.5V336.76h.45V422.5z"/><path d="M1281.82 422.5V343.76h.45V422.5z"/><path d="M1283 422.5V354.05h.45V422.5z"/><path d="M1284.18 422.5V363.83h.45V422.5z"/><path d="M1285.36 422.5V373.38h.45V422.5z"/><path d="M1286.54 422.5V376.43h.45V422.5z"/><path d="M1287.72 422.5V378.79h.45V422.5z"/><path d="M1288.9 422.5V380.7h.45V422.5z"/><path d="M1290.08 422.5V383.95h.45V422.5z"/><path d="M1291.26 422.5V386.68h.45V422.5z"/><path d="M1292.44 422.5V388.1h.45V422.5z"/><path d="M1293.62 422.5V389.43h.45V422.5z"/><path d="M1294.8 422.5V390.33h.45V422.5z"/><path d="M1295.98 422.5V391.23h.45V422.5z"/><path d="M1297.16 422.5V394.92h.45V422.5z"/><path d="M1298.34 422.5V398.86h.45V422.5z"/><path d="M1299.52 422.5V402h.45V422.5z"/><path d="M1300.7 422.5V405.77h.45V422.5z"/><path d="M1301.88 422.5V408.91h.45V422.5z"/><path d="M1303.05 422.5V410.5h.45V422.5z"/><path d="M1304.23 422.5V413.98h.45V422.5z"/><path d="M1305.41 422.5V416.31h.45V422.5z"/><path d="M1306.59 422.5V418.64h.45V422.5z"/><path d="M1307.77 422.5V420.66h.45V422.5z"/><path d="M1310.13 422.5V424.59h.45V422.5z"/><path d="M1311.31 422.5V426.56h.45V422.5z"/><path d="M1312.49 422.5V428.51h.45V422.5z"/><path d="M1313.67 422.5V429.3h.45V422.5z"/><path d="M1314.85 422.5V430.1h.45V422.5z"/><path d="M1316.03 422.5V430.89h.45V422.5z"/><path d="M1317.21 422.5V432h.45V422.5z"/><path d="M1318.39 422.5V432.47h.45V422.5z"/><path d="M1319.57 422.5V433.25h.45V422.5z"/><path d="M1320.75 422.5V434.03h.45V422.5z"/><path d="M1321.93 422.5V434.81h.45V422.5z"/><path d="M1323.11 422.5V435.63h.45V422.5z"/><path d="M1324.29 422.5V436.84h.45V422.5z"/><path d="M1325.47 422.5V438.04h.45V422.5z"/><path d="M1326.65 422.5V439.24h.45V422.5z"/><path d="M1327.82 422.5V440.8h.45V422.5z"/><path d="M1329 422.5V441.63h.45V422.5z"/><path d="M1330.18 422.5V442.81h.45V422.5z"/><path d="M1331.36 422.5V443.99h.45V422.5z"/><path d="M1332.54 422.5V445.17h.45V422.5z"/><path d="M1333.72 422.5V446.22h.45V422.5z"/><path d="M1334.9 422.5V446.79h.45V422.5z"/><path d="M1336.08 422.5V447.37h.45V422.5z"/><path d="M1337.26 422.5V448.02h.45V422.5z"/><path d="M1338.44 422.5V448.93h.45V422.5z"/><path d="M1339.62 422.5V449.84h.45V422.5z"/><path d="M1340.8 422.5V450.5h.45V422.5z"/><path d="M1341.98 422.5V448.22h.45V422.5z"/><path d="M1343.16 422.5V446.44h.45V422.5z"/><path d="M1344.34 422.5V445.38h.45V422.5z"/><path d="M1345.52 422.5V445.96h.45V422.5z"/><path d="M1346.7 422.5V446.54h.45V422.5z"/><path d="M1347.88 422.5V447.11h.45V422.5z"/><path d="M1349.06 422.5V447.8h.45V422.5z"/><path d="M1350.24 422.5V450.71h.45V422.5z"/><path d="M1351.42 422.5V454.28h.45V422.5z"/><path d="M1352.6 422.5V458.4h.45V422.5z"/><path d="M1353.77 422.5V460.4h.45V422.5z"/><path d="M1354.95 422.5V462.76h.45V422.5z"/><path d="M1356.13 422.5V465.4h.45V422.5z"/><path d="M1357.31 422.5V468.51h.45V422.5z"/><path d="M1358.49 422.5V472.05h.45V422.5z"/><path d="M1359.67 422.5V475.9h.45V422.5z"/><path d="M1360.85 422.5V478.26h.45V422.5z"/><path d="M1362.03 422.5V480.84h.45V422.5z"/><path d="M1363.21 422.5V482.9h.45V422.5z"/><path d="M1364.39 422.5V478.18h.45V422.5z"/><path d="M1365.57 422.5V475.9h.45V422.5z"/><path d="M1366.75 422.5V471.69h.45V422.5z"/><path d="M1367.93 422.5V468.72h.45V422.5z"/><path d="M1369.11 422.5V467.1h.45V422.5z"/><path d="M1370.29 422.5V461.08h.45V422.5z"/><path d="M1371.47 422.5V456.93h.45V422.5z"/><path d="M1372.65 422.5V454.8h.45V422.5z"/><path d="M1373.83 422.5V454.24h.45V422.5z"/><path d="M1375.01 422.5V453.86h.45V422.5z"/><path d="M1376.19 422.5V453.48h.45V422.5z"/><path d="M1377.37 422.5V453.1h.45V422.5z"/><path d="M1378.54 422.5V453.97h.45V422.5z"/><path d="M1379.72 422.5V454.85h.45V422.5z"/><path d="M1380.9 422.5V455.7h.45V422.5z"/><path d="M1382.08 422.5V454.18h.45V422.5z"/><path d="M1383.26 422.5V452.7h.45V422.5z"/><path d="M1384.44 422.5V451.3h.45V422.5z"/><path d="M1385.62 422.5V451.3h.45V422.5z"/><path d="M1386.8 422.5V450.54h.45V422.5z"/><path d="M1387.98 422.5V449.12h.45V422.5z"/><path d="M1389.16 422.5V447.7h.45V422.5z"/><path d="M1390.34 422.5V446.27h.45V422.5z"/><path d="M1391.52 422.5V444.85h.45V422.5z"/><path d="M1392.7 422.5V443.43h.45V422.5z"/><path d="M1393.88 422.5V442h.45V422.5z"/><path d="M1395.06 422.5V440.8h.45V422.5z"/><path d="M1396.24 422.5V439h.45V422.5z"/><path d="M1397.42 422.5V437.44h.45V422.5z"/><path d="M1398.6 422.5V435.88h.45V422.5z"/><path d="M1399.78 422.5V434.33h.45V422.5z"/><path d="M1400.96 422.5V432.22h.45V422.5z"/><path d="M1402.14 422.5V429.84h.45V422.5z"/><path d="M1403.31 422.5V427.46h.45V422.5z"/><path d="M1404.49 422.5V425.08h.45V422.5z"/><path d="M1405.67 422.5V423.3h.45V422.5z"/><path d="M1406.85 422.5V422.97h.45V422.5z"/><path d="M1409.21 422.5V421.76h.45V422.5z"/><path d="M1410.39 422.5V418.12h.45V422.5z"/><path d="M1411.57 422.5V414.47h.45V422.5z"/><path d="M1412.75 422.5V410.69h.45V422.5z"/><path d="M1413.93 422.5V406.78h.45V422.5z"/><path d="M1415.11 422.5V402h.45V422.5z"/><path d="M1416.29 422.5V401.13h.45V422.5z"/><path d="M1417.47 422.5V399.9h.45V422.5z"/><path d="M1418.65 422.5V403.46h.45V422.5z"/><path d="M1419.83 422.5V407.36h.45V422.5z"/><path d="M1421.01 422.5V409.88h.45V422.5z"/><path d="M1422.19 422.5V406.75h.45V422.5z"/><path d="M1423.37 422.5V403.61h.45V422.5z"/><path d="M1424.55 422.5V401.23h.45V422.5z"/><path d="M1425.73 422.5V399.65h.45V422.5z"/><path d="M1426.91 422.5V397.7h.45V422.5z"/><path d="M1428.09 422.5V398.33h.45V422.5z"/><path d="M1429.26 422.5V399.14h.45V422.5z"/><path d="M1430.44 422.5V399.41h.45V422.5z"/><path d="M1431.62 422.5V391.04h.45V422.5z"/><path d="M1432.8 422.5V384.5h.45V422.5z"/><path d="M1433.98 422.5V382.7h.45V422.5z"/><path d="M1435.16 422.5V381.8h.45V422.5z"/><path d="M1436.34 422.5V382.21h.45V422.5z"/><path d="M1437.52 422.5V382.49h.45V422.5z"/><path d="M1438.7 422.5V382.76h.45V422.5z"/><path d="M1439.88 422.5V385.86h.45V422.5z"/><path d="M1441.06 422.5V388.94h.45V422.5z"/><path d="M1442.24 422.5V385.35h.45V422.5z"/><path d="M1443.42 422.5V380.21h.45V422.5z"/><path d="M1444.6 422.5V370h.45V422.5z"/><path d="M1445.78 422.5V346.6h.45V422.5z"/><path d="M1446.96 422.5V337.35h.45V422.5z"/><path d="M1448.14 422.5V316.8h.45V422.5z"/><path d="M1449.32 422.5V315.7h.45V422.5z"/><path d="M1450.5 422.5V338.45h.45V422.5z"/><path d="M1451.68 422.5V355.82h.45V422.5z"/><path d="M1452.86 422.5V370h.45V422.5z"/><path d="M1454.03 422.5V377.91h.45V422.5z"/><path d="M1455.21 422.5V382.46h.45V422.5z"/><path d="M1456.39 422.5V380.7h.45V422.5z"/><path d="M1457.57 422.5V378.88h.45V422.5z"/><path d="M1458.75 422.5V374.3h.45V422.5z"/><path d="M1459.93 422.5V379.53h.45V422.5z"/><path d="M1461.11 422.5V386.72h.45V422.5z"/><path d="M1462.29 422.5V392.48h.45V422.5z"/><path d="M1463.47 422.5V397.7h.45V422.5z"/><path d="M1464.65 422.5V397.7h.45V422.5z"/><path d="M1465.83 422.5V397.7h.45V422.5z"/><path d="M1467.01 422.5V397.7h.45V422.5z"/><path d="M1468.19 422.5V400.93h.45V422.5z"/><path d="M1469.37 422.5V403.29h.45V422.5z"/><path d="M1470.55 422.5V407.23h.45V422.5z"/><path d="M1471.73 422.5V412h.45V422.5z"/><path d="M1472.91 422.5V413.02h.45V422.5z"/><path d="M1474.09 422.5V413.5h.45V422.5z"/><path d="M1475.27 422.5V413.98h.45V422.5z"/><path d="M1476.45 422.5V414.46h.45V422.5z"/><path d="M1477.63 422.5V414.94h.45V422.5z"/><path d="M1478.81 422.5V414.83h.45V422.5z"/><path d="M1479.98 422.5V414.63h.45V422.5z"/><path d="M1481.16 422.5V414.44h.45V422.5z"/><path d="M1482.34 422.5V414.24h.45V422.5z"/><path d="M1483.52 422.5V414.04h.45V422.5z"/><path d="M1484.7 422.5V413.85h.45V422.5z"/><path d="M1485.88 422.5V413.65h.45V422.5z"/><path d="M1487.06 422.5V413.45h.45V422.5z"/><path d="M1488.24 422.5V413.26h.45V422.5z"/><path d="M1489.42 422.5V413h.45V422.5z"/><path d="M1490.6 422.5V411.84h.45V422.5z"/><path d="M1491.78 422.5V410.19h.45V422.5z"/><path d="M1492.96 422.5V408.54h.45V422.5z"/><path d="M1494.14 422.5V406.89h.45V422.5z"/><path d="M1495.32 422.5V406h.45V422.5z"/><path d="M1496.5 422.5V407.38h.45V422.5z"/><path d="M1497.68 422.5V408.32h.45V422.5z"/><path d="M1498.86 422.5V409.27h.45V422.5z"/><path d="M1500.04 422.5V409.69h.45V422.5z"/><path d="M1501.22 422.5V408.27h.45V422.5z"/><path d="M1502.4 422.5V406.86h.45V422.5z"/><path d="M1503.58 422.5V405.44h.45V422.5z"/><path d="M1504.75 422.5V404h.45V422.5z"/><path d="M1505.93 422.5V403.3h.45V422.5z"/><path d="M1507.11 422.5V402.58h.45V422.5z"/><path d="M1508.29 422.5V402h.45V422.5z"/><path d="M1509.47 422.5V407.18h.45V422.5z"/><path d="M1510.65 422.5V411.55h.45V422.5z"/><path d="M1511.83 422.5V411.7h.45V422.5z"/><path d="M1513.01 422.5V411.36h.45V422.5z"/><path d="M1514.19 422.5V411.02h.45V422.5z"/><path d="M1515.37 422.5V410.69h.45V422.5z"/><path d="M1516.55 422.5V410.35h.45V422.5z"/><path d="M1517.73 422.5V410h.45V422.5z"/><path d="M1518.91 422.5V410.09h.45V422.5z"/><path d="M1520.09 422.5V410.19h.45V422.5z"/><path d="M1521.27 422.5V410.29h.45V422.5z"/><path d="M1522.45 422.5V410.39h.45V422.5z"/><path d="M1523.63 422.5V410.49h.45V422.5z"/><path d="M1524.81 422.5V410.59h.45V422.5z"/><path d="M1525.99 422.5V410.68h.45V422.5z"/><path d="M1527.17 422.5V410.78h.45V422.5z"/><path d="M1528.35 422.5V410.88h.45V422.5z"/><path d="M1529.53 422.5V410.98h.45V422.5z"/><path d="M1530.7 422.5V410.63h.45V422.5z"/><path d="M1531.88 422.5V410.15h.45V422.5z"/><path d="M1533.06 422.5V409.68h.45V422.5z"/><path d="M1534.24 422.5V409.2h.45V422.5z"/><path d="M1535.42 422.5V408.73h.45V422.5z"/><path d="M1536.6 422.5V408.25h.45V422.5z"/><path d="M1537.78 422.5V407.78h.45V422.5z"/><path d="M1538.96 422.5V407.3h.45V422.5z"/><path d="M1540.14 422.5V408.44h.45V422.5z"/><path d="M1541.32 422.5V409.6h.45V422.5z"/><path d="M1542.5 422.5V410.75h.45V422.5z"/><path d="M1543.68 422.5V411.91h.45V422.5z"/><path d="M1544.86 422.5V417.69h.45V422.5z"/><path d="M1546.04 422.5V423.09h.45V422.5z"/><path d="M1547.22 422.5V425.71h.45V422.5z"/><path d="M1548.4 422.5V428.5h.45V422.5z"/><path d="M1549.58 422.5V431.47h.45V422.5z"/><path d="M1550.76 422.5V435.5h.45V422.5z"/><path d="M1551.94 422.5V437.85h.45V422.5z"/><path d="M1553.12 422.5V442.6h.45V422.5z"/><path d="M1554.3 422.5V443.79h.45V422.5z"/><path d="M1555.47 422.5V446.07h.45V422.5z"/><path d="M1556.65 422.5V448.27h.45V422.5z"/><path d="M1557.83 422.5V450.27h.45V422.5z"/><path d="M1559.01 422.5V452.2h.45V422.5z"/><path d="M1560.19 422.5V451.3h.45V422.5z"/><path d="M1561.37 422.5V446.69h.45V422.5z"/><path d="M1562.55 422.5V442.08h.45V422.5z"/><path d="M1563.73 422.5V442.6h.45V422.5z"/><path d="M1564.91 422.5V440.36h.45V422.5z"/><path d="M1566.09 422.5V436.21h.45V422.5z"/><path d="M1567.27 422.5V433.8h.45V422.5z"/><path d="M1568.45 422.5V433.8h.45V422.5z"/><path d="M1569.63 422.5V434.01h.45V422.5z"/><path d="M1570.81 422.5V435.6h.45V422.5z"/><path d="M1571.99 422.5V437.3h.45V422.5z"/><path d="M1573.17 422.5V443.94h.45V422.5z"/><path d="M1574.35 422.5V453.1h.45V422.5z"/><path d="M1575.53 422.5V457.13h.45V422.5z"/><path d="M1576.71 422.5V465.4h.45V422.5z"/><path d="M1577.89 422.5V467.37h.45V422.5z"/><path d="M1579.07 422.5V471.17h.45V422.5z"/><path d="M1580.24 422.5V474.84h.45V422.5z"/><path d="M1581.42 422.5V478.06h.45V422.5z"/><path d="M1582.6 422.5V481.37h.45V422.5z"/><path d="M1583.78 422.5V488.25h.45V422.5z"/><path d="M1584.96 422.5V495.02h.45V422.5z"/><path d="M1586.14 422.5V501.3h.45V422.5z"/><path d="M1587.32 422.5V499.31h.45V422.5z"/><path d="M1588.5 422.5V497.44h.45V422.5z"/><path d="M1589.68 422.5V493.93h.45V422.5z"/><path d="M1590.86 422.5V489.94h.45V422.5z"/><path d="M1592.04 422.5V486.41h.45V422.5z"/><path d="M1593.22 422.5V483.23h.45V422.5z"/><path d="M1594.4 422.5V481.2h.45V422.5z"/><path d="M1595.58 422.5V474.66h.45V422.5z"/><path d="M1596.76 422.5V470.6h.45V422.5z"/><path d="M1597.94 422.5V466.21h.45V422.5z"/><path d="M1599.12 422.5V462.41h.45V422.5z"/><path d="M1600.3 422.5V459.11h.45V422.5z"/><path d="M1601.48 422.5V455.89h.45V422.5z"/><path d="M1602.66 422.5V453.24h.45V422.5z"/><path d="M1603.84 422.5V450.88h.45V422.5z"/><path d="M1605.02 422.5V449.6h.45V422.5z"/><path d="M1606.19 422.5V447.37h.45V422.5z"/><path d="M1607.37 422.5V446.1h.45V422.5z"/><path d="M1608.55 422.5V444.24h.45V422.5z"/><path d="M1609.73 422.5V442.66h.45V422.5z"/><path d="M1610.91 422.5V440.28h.45V422.5z"/><path d="M1612.09 422.5V437.88h.45V422.5z"/><path d="M1613.27 422.5V440.79h.45V422.5z"/><path d="M1614.45 422.5V445.38h.45V422.5z"/><path d="M1615.63 422.5V448.18h.45V422.5z"/><path d="M1616.81 422.5V449h.45V422.5z"/><path d="M1617.99 422.5V449.6h.45V422.5z"/><path d="M1619.17 422.5V447.59h.45V422.5z"/><path d="M1620.35 422.5V446.1h.45V422.5z"/><path d="M1621.53 422.5V442.85h.45V422.5z"/><path d="M1622.71 422.5V439.79h.45V422.5z"/><path d="M1623.89 422.5V436.34h.45V422.5z"/><path d="M1625.07 422.5V432.76h.45V422.5z"/><path d="M1626.25 422.5V429.19h.45V422.5z"/><path d="M1627.43 422.5V427.55h.45V422.5z"/><path d="M1628.61 422.5V426.37h.45V422.5z"/><path d="M1629.79 422.5V425.19h.45V422.5z"/><path d="M1630.96 422.5V425h.45V422.5z"/><path d="M1632.14 422.5V425h.45V422.5z"/><path d="M1633.32 422.5V425h.45V422.5z"/><path d="M1634.5 422.5V424.09h.45V422.5z"/><path d="M1636.86 422.5V419.78h.45V422.5z"/><path d="M1638.04 422.5V418h.45V422.5z"/><path d="M1640.4 422.5V423.63h.45V422.5z"/><path d="M1641.58 422.5V424.81h.45V422.5z"/><path d="M1642.76 422.5V425.99h.45V422.5z"/><path d="M1643.94 422.5V427h.45V422.5z"/><path d="M1645.12 422.5V427h.45V422.5z"/><path d="M1646.3 422.5V427h.45V422.5z"/><path d="M1647.48 422.5V427h.45V422.5z"/><path d="M1648.66 422.5V427h.45V422.5z"/><path d="M1649.84 422.5V427h.45V422.5z"/><path d="M1651.02 422.5V427h.45V422.5z"/><path d="M1652.2 422.5V427h.45V422.5z"/><path d="M1653.38 422.5V427h.45V422.5z"/><path d="M1654.56 422.5V427h.45V422.5z"/><path d="M1655.74 422.5V427h.45V422.5z"/><path d="M1656.91 422.5V427h.45V422.5z"/><path d="M1658.09 422.5V427h.45V422.5z"/><path d="M1660.45 422.5V421.46h.45V422.5z"/><path d="M1661.63 422.5V419.35h.45V422.5z"/><path d="M1662.81 422.5V417.24h.45V422.5z"/><path d="M1663.99 422.5V414.8h.45V422.5z"/><path d="M1665.17 422.5V413.8h.45V422.5z"/><path d="M1666.35 422.5V412.62h.45V422.5z"/><path d="M1667.53 422.5V411.24h.45V422.5z"/><path d="M1668.71 422.5V408.47h.45V422.5z"/><path d="M1669.89 422.5V405.71h.45V422.5z"/><path d="M1671.07 422.5V402.12h.45V422.5z"/><path d="M1672.25 422.5V397.41h.45V422.5z"/><path d="M1673.43 422.5V391.3h.45V422.5z"/><path d="M1674.61 422.5V391.87h.45V422.5z"/><path d="M1675.79 422.5V392.68h.45V422.5z"/><path d="M1676.97 422.5V393.49h.45V422.5z"/><path d="M1678.15 422.5V391.16h.45V422.5z"/><path d="M1679.33 422.5V388.8h.45V422.5z"/><path d="M1680.51 422.5V386.77h.45V422.5z"/><path d="M1681.68 422.5V385.59h.45V422.5z"/><path d="M1682.86 422.5V385h.45V422.5z"/><path d="M1684.04 422.5V386.16h.45V422.5z"/><path d="M1685.22 422.5V386.93h.45V422.5z"/><path d="M1686.4 422.5V380.92h.45V422.5z"/><path d="M1687.58 422.5V373.07h.45V422.5z"/><path d="M1688.76 422.5V365.8h.45V422.5z"/><path d="M1689.94 422.5V371.7h.45V422.5z"/><path d="M1691.12 422.5V377.19h.45V422.5z"/><path d="M1692.3 422.5V380.7h.45V422.5z"/><path d="M1693.48 422.5V381.75h.45V422.5z"/><path d="M1694.66 422.5V382.53h.45V422.5z"/><path d="M1695.84 422.5V378.94h.45V422.5z"/><path d="M1697.02 422.5V372.2h.45V422.5z"/><path d="M1698.2 422.5V369.13h.45V422.5z"/><path d="M1699.38 422.5V365.59h.45V422.5z"/><path d="M1700.56 422.5V362.6h.45V422.5z"/><path d="M1701.74 422.5V363.61h.45V422.5z"/><path d="M1702.92 422.5V364.49h.45V422.5z"/><path d="M1704.1 422.5V365.37h.45V422.5z"/><path d="M1705.28 422.5V366.4h.45V422.5z"/><path d="M1706.46 422.5V367.58h.45V422.5z"/><path d="M1707.63 422.5V368.76h.45V422.5z"/><path d="M1708.81 422.5V369.94h.45V422.5z"/><path d="M1709.99 422.5V370.83h.45V422.5z"/><path d="M1711.17 422.5V371.71h.45V422.5z"/><path d="M1712.35 422.5V372.59h.45V422.5z"/><path d="M1713.53 422.5V373.2h.45V422.5z"/><path d="M1714.71 422.5V373.2h.45V422.5z"/><path d="M1715.89 422.5V373.2h.45V422.5z"/><path d="M1717.07 422.5V373.2h.45V422.5z"/><path d="M1718.25 422.5V369.43h.45V422.5z"/><path d="M1719.43 422.5V364.34h.45V422.5z"/><path d="M1720.61 422.5V359.34h.45V422.5z"/><path d="M1721.79 422.5V357.39h.45V422.5z"/><path d="M1722.97 422.5V355.44h.45V422.5z"/><path d="M1724.15 422.5V354.1h.45V422.5z"/><path d="M1725.33 422.5V363.84h.45V422.5z"/><path d="M1726.51 422.5V365.75h.45V422.5z"/><path d="M1727.69 422.5V359.4h.45V422.5z"/><path d="M1728.87 422.5V365.01h.45V422.5z"/><path d="M1730.05 422.5V373.38h.45V422.5z"/><path d="M1731.23 422.5V384.47h.45V422.5z"/><path d="M1732.4 422.5V395.57h.45V422.5z"/><path d="M1733.58 422.5V394.39h.45V422.5z"/><path d="M1734.76 422.5V393.5h.45V422.5z"/><path d="M1735.94 422.5V397.4h.45V422.5z"/><path d="M1737.12 422.5V400.53h.45V422.5z"/><path d="M1738.3 422.5V402.41h.45V422.5z"/><path d="M1739.48 422.5V403.19h.45V422.5z"/><path d="M1740.66 422.5V403.96h.45V422.5z"/><path d="M1741.84 422.5V405.57h.45V422.5z"/><path d="M1743.02 422.5V407.37h.45V422.5z"/><path d="M1744.2 422.5V409.17h.45V422.5z"/><path d="M1745.38 422.5V410.2h.45V422.5z"/><path d="M1746.56 422.5V409.05h.45V422.5z"/><path d="M1747.74 422.5V407.9h.45V422.5z"/><path d="M1748.92 422.5V406.3h.45V422.5z"/><path d="M1750.1 422.5V409.96h.45V422.5z"/><path d="M1751.28 422.5V415.93h.45V422.5z"/><path d="M1752.46 422.5V421.9h.45V422.5z"/><path d="M1756 422.5V424.25h.45V422.5z"/><path d="M1757.17 422.5V425.69h.45V422.5z"/><path d="M1758.35 422.5V427.22h.45V422.5z"/><path d="M1759.53 422.5V428.97h.45V422.5z"/><path d="M1760.71 422.5V430.72h.45V422.5z"/><path d="M1761.89 422.5V432.48h.45V422.5z"/><path d="M1763.07 422.5V434.27h.45V422.5z"/><path d="M1764.25 422.5V436.05h.45V422.5z"/><path d="M1765.43 422.5V438.37h.45V422.5z"/><path d="M1766.61 422.5V441.91h.45V422.5z"/><path d="M1767.79 422.5V445.45h.45V422.5z"/><path d="M1768.97 422.5V448.59h.45V422.5z"/><path d="M1770.15 422.5V450.95h.45V422.5z"/><path d="M1771.33 422.5V453.31h.45V422.5z"/><path d="M1772.51 422.5V455.25h.45V422.5z"/><path d="M1773.69 422.5V456.46h.45V422.5z"/><path d="M1774.87 422.5V457.67h.45V422.5z"/><path d="M1776.05 422.5V458.63h.45V422.5z"/><path d="M1777.23 422.5V459.2h.45V422.5z"/><path d="M1778.41 422.5V459.78h.45V422.5z"/><path d="M1779.59 422.5V460.48h.45V422.5z"/><path d="M1780.77 422.5V461.36h.45V422.5z"/><path d="M1781.95 422.5V462.23h.45V422.5z"/><path d="M1783.12 422.5V463.52h.45V422.5z"/><path d="M1784.3 422.5V465.4h.45V422.5z"/><path d="M1785.48 422.5V462.14h.45V422.5z"/><path d="M1786.66 422.5V460.1h.45V422.5z"/><path d="M1787.84 422.5V445.47h.45V422.5z"/><path d="M1789.02 422.5V437.3h.45V422.5z"/><path d="M1790.2 422.5V436.31h.45V422.5z"/><path d="M1791.38 422.5V435.51h.45V422.5z"/><path d="M1792.56 422.5V437.3h.45V422.5z"/><path d="M1793.74 422.5V439.08h.45V422.5z"/><path d="M1794.92 422.5V440.87h.45V422.5z"/><path d="M1796.1 422.5V442.65h.45V422.5z"/><path d="M1797.28 422.5V444.44h.45V422.5z"/><path d="M1798.46 422.5V446.21h.45V422.5z"/><path d="M1799.64 422.5V447.74h.45V422.5z"/><path d="M1800.82 422.5V449.6h.45V422.5z"/><path d="M1802 422.5V454.37h.45V422.5z"/><path d="M1803.18 422.5V461.12h.45V422.5z"/><path d="M1804.36 422.5V470.6h.45V422.5z"/><path d="M1805.54 422.5V478.57h.45V422.5z"/><path d="M1806.72 422.5V488.98h.45V422.5z"/><path d="M1807.89 422.5V502.2h.45V422.5z"/><path d="M1809.07 422.5V514.6h.45V422.5z"/><path d="M1810.25 422.5V527.96h.45V422.5z"/><path d="M1811.43 422.5V540.8h.45V422.5z"/><path d="M1812.61 422.5V538.78h.45V422.5z"/><path d="M1813.79 422.5V537.3h.45V422.5z"/><path d="M1814.97 422.5V515.88h.45V422.5z"/><path d="M1816.15 422.5V500.86h.45V422.5z"/><path d="M1817.33 422.5V491.7h.45V422.5z"/><path d="M1818.51 422.5V484.96h.45V422.5z"/><path d="M1819.69 422.5V482.51h.45V422.5z"/><path d="M1820.87 422.5V480.2h.45V422.5z"/><path d="M1822.05 422.5V474.19h.45V422.5z"/><path d="M1823.23 422.5V466.25h.45V422.5z"/><path d="M1824.41 422.5V461.9h.45V422.5z"/><path d="M1825.59 422.5V456.1h.45V422.5z"/><path d="M1826.77 422.5V453.1h.45V422.5z"/><path d="M1827.95 422.5V448.3h.45V422.5z"/><path d="M1829.13 422.5V444.46h.45V422.5z"/><path d="M1830.31 422.5V440.47h.45V422.5z"/><path d="M1831.49 422.5V436.48h.45V422.5z"/><path d="M1832.67 422.5V431.83h.45V422.5z"/><path d="M1833.84 422.5V428.71h.45V422.5z"/><path d="M1835.02 422.5V429.36h.45V422.5z"/><path d="M1836.2 422.5V430.02h.45V422.5z"/><path d="M1837.38 422.5V430.67h.45V422.5z"/><path d="M1838.56 422.5V431.33h.45V422.5z"/><path d="M1839.74 422.5V432h.45V422.5z"/><path d="M1840.92 422.5V432.11h.45V422.5z"/><path d="M1842.1 422.5V432.23h.45V422.5z"/><path d="M1843.28 422.5V432.35h.45V422.5z"/><path d="M1844.46 422.5V432.47h.45V422.5z"/><path d="M1845.64 422.5V432.59h.45V422.5z"/><path d="M1846.82 422.5V432.7h.45V422.5z"/><path d="M1848 422.5V432.82h.45V422.5z"/><path d="M1849.18 422.5V432.94h.45V422.5z"/><path d="M1850.36 422.5V433h.45V422.5z"/><path d="M1851.54 422.5V432.04h.45V422.5z"/><path d="M1852.72 422.5V431.4h.45V422.5z"/><path d="M1853.9 422.5V430.77h.45V422.5z"/><path d="M1855.08 422.5V430.13h.45V422.5z"/><path d="M1856.26 422.5V429.49h.45V422.5z"/><path d="M1857.44 422.5V428.85h.45V422.5z"/><path d="M1858.61 422.5V428.5h.45V422.5z"/><path d="M1859.79 422.5V424.68h.45V422.5z"/><path d="M1862.15 422.5V424.02h.45V422.5z"/><path d="M1863.33 422.5V425.31h.45V422.5z"/><path d="M1864.51 422.5V426.61h.45V422.5z"/><path d="M1865.69 422.5V428h.45V422.5z"/><path d="M1866.87 422.5V428.02h.45V422.5z"/><path d="M1868.05 422.5V428.05h.45V422.5z"/><path d="M1869.23 422.5V428.08h.45V422.5z"/><path d="M1870.41 422.5V428.11h.45V422.5z"/><path d="M1871.59 422.5V428.13h.45V422.5z"/><path d="M1872.77 422.5V428.16h.45V422.5z"/><path d="M1873.95 422.5V428.19h.45V422.5z"/><path d="M1875.13 422.5V428.21h.45V422.5z"/><path d="M1876.31 422.5V428.24h.45V422.5z"/><path d="M1877.49 422.5V428.27h.45V422.5z"/><path d="M1878.67 422.5V428.29h.45V422.5z"/><path d="M1879.85 422.5V428.32h.45V422.5z"/><path d="M1881.03 422.5V428.35h.45V422.5z"/><path d="M1882.21 422.5V428.37h.45V422.5z"/><path d="M1883.39 422.5V428.4h.45V422.5z"/><path d="M1884.56 422.5V428.43h.45V422.5z"/><path d="M1885.74 422.5V428.45h.45V422.5z"/><path d="M1886.92 422.5V428.48h.45V422.5z"/><path d="M1888.1 422.5V428.5h.45V422.5z"/><path d="M1889.28 422.5V425.48h.45V422.5z"/><path d="M1890.46 422.5V423.13h.45V422.5z"/><path d="M1894 422.5V415.26h.45V422.5z"/><path d="M1895.18 422.5V404.1h.45V422.5z"/><path d="M1896.36 422.5V397.79h.45V422.5z"/><path d="M1897.54 422.5V391.17h.45V422.5z"/><path d="M1898.72 422.5V388.81h.45V422.5z"/><path d="M1899.9 422.5V387.1h.45V422.5z"/><path d="M1901.08 422.5V393.18h.45V422.5z"/><path d="M1902.26 422.5V395.6h.45V422.5z"/><path d="M1903.44 422.5V399.04h.45V422.5z"/><path d="M1904.62 422.5V390.86h.45V422.5z"/><path d="M1905.8 422.5V374.3h.45V422.5z"/><path d="M1906.98 422.5V366.2h.45V422.5z"/><path d="M1908.16 422.5V357.3h.45V422.5z"/><path d="M1909.33 422.5V360.49h.45V422.5z"/><path d="M1910.51 422.5V363.44h.45V422.5z"/><path d="M1911.69 422.5V366.37h.45V422.5z"/><path d="M1912.87 422.5V369.3h.45V422.5z"/><path d="M1914.05 422.5V371.62h.45V422.5z"/><path d="M1915.23 422.5V373.61h.45V422.5z"/><path d="M1916.41 422.5V371.3h.45V422.5z"/><path d="M1917.59 422.5V363.3h.45V422.5z"/><path d="M1918.77 422.5V352.08h.45V422.5z"/><path d="M1919.95 422.5V341.74h.45V422.5z"/><path d="M1921.13 422.5V333.5h.45V422.5z"/><path d="M1922.31 422.5V331.29h.45V422.5z"/><path d="M1923.49 422.5V329.3h.45V422.5z"/><path d="M1924.67 422.5V331.95h.45V422.5z"/><path d="M1925.85 422.5V333.6h.45V422.5z"/><path d="M1927.03 422.5V342.66h.45V422.5z"/><path d="M1928.21 422.5V349.73h.45V422.5z"/><path d="M1929.39 422.5V356.85h.45V422.5z"/><path d="M1930.57 422.5V359.59h.45V422.5z"/><path d="M1931.75 422.5V359.22h.45V422.5z"/><path d="M1932.93 422.5V358.07h.45V422.5z"/><path d="M1934.1 422.5V355.5h.45V422.5z"/><path d="M1935.28 422.5V353.84h.45V422.5z"/><path d="M1936.46 422.5V352.16h.45V422.5z"/><path d="M1937.64 422.5V350.62h.45V422.5z"/><path d="M1938.82 422.5V349.4h.45V422.5z"/><path d="M1940 422.5V360.42h.45V422.5z"/><path d="M1941.18 422.5V357.51h.45V422.5z"/><path d="M1942.36 422.5V351.1h.45V422.5z"/><path d="M1943.54 422.5V376.72h.45V422.5z"/><path d="M1944.72 422.5V375.9h.45V422.5z"/><path d="M1945.9 422.5V366.8h.45V422.5z"/><path d="M1947.08 422.5V374.27h.45V422.5z"/><path d="M1948.26 422.5V387.8h.45V422.5z"/><path d="M1949.44 422.5V392.64h.45V422.5z"/><path d="M1950.62 422.5V400.68h.45V422.5z"/><path d="M1951.8 422.5V409.84h.45V422.5z"/><path d="M1952.98 422.5V403.49h.45V422.5z"/><path d="M1954.16 422.5V396.5h.45V422.5z"/><path d="M1955.34 422.5V403.69h.45V422.5z"/><path d="M1956.52 422.5V408.7h.45V422.5z"/><path d="M1957.7 422.5V416.3h.45V422.5z"/><path d="M1958.88 422.5V420.9h.45V422.5z"/><path d="M1960.05 422.5V437h.45V422.5z"/><path d="M1961.23 422.5V423.09h.45V422.5z"/><path d="M1970.67 422.5V423.64h.45V422.5z"/><path d="M1971.85 422.5V427.05h.45V422.5z"/><path d="M1973.03 422.5V430.56h.45V422.5z"/><path d="M1974.21 422.5V436.14h.45V422.5z"/><path d="M1975.39 422.5V442.6h.45V422.5z"/><path d="M1976.57 422.5V445.27h.45V422.5z"/><path d="M1977.75 422.5V449.6h.45V422.5z"/><path d="M1978.93 422.5V451.05h.45V422.5z"/><path d="M1980.11 422.5V453.32h.45V422.5z"/><path d="M1981.29 422.5V455.37h.45V422.5z"/><path d="M1982.47 422.5V457h.45V422.5z"/><path d="M1983.65 422.5V458.86h.45V422.5z"/><path d="M1984.82 422.5V462.03h.45V422.5z"/><path d="M1986 422.5V465.4h.45V422.5z"/><path d="M1987.18 422.5V469.21h.45V422.5z"/><path d="M1988.36 422.5V473.3h.45V422.5z"/><path d="M1989.54 422.5V465.96h.45V422.5z"/><path d="M1990.72 422.5V460.1h.45V422.5z"/><path d="M1991.9 422.5V456.26h.45V422.5z"/><path d="M1993.08 422.5V453.1h.45V422.5z"/><path d="M1994.26 422.5V450.77h.45V422.5z"/><path d="M1995.44 422.5V448.46h.45V422.5z"/><path d="M1996.62 422.5V446.11h.45V422.5z"/><path d="M1997.8 422.5V443.75h.45V422.5z"/><path d="M1998.98 422.5V441.58h.45V422.5z"/><path d="M2000.16 422.5V439.58h.45V422.5z"/><path d="M2001.34 422.5V439.02h.45V422.5z"/><path d="M2002.52 422.5V441.69h.45V422.5z"/><path d="M2003.7 422.5V444.37h.45V422.5z"/><path d="M2004.88 422.5V449.6h.45V422.5z"/><path d="M2006.06 422.5V446.85h.45V422.5z"/><path d="M2007.24 422.5V442.08h.45V422.5z"/><path d="M2008.42 422.5V440.81h.45V422.5z"/><path d="M2009.6 422.5V445.4h.45V422.5z"/><path d="M2010.77 422.5V450.4h.45V422.5z"/><path d="M2011.95 422.5V459.93h.45V422.5z"/><path d="M2013.13 422.5V470.6h.45V422.5z"/><path d="M2014.31 422.5V480.75h.45V422.5z"/><path d="M2015.49 422.5V490.56h.45V422.5z"/><path d="M2016.67 422.5V497.8h.45V422.5z"/><path d="M2017.85 422.5V500.7h.45V422.5z"/><path d="M2019.03 422.5V504.8h.45V422.5z"/><path d="M2020.21 422.5V501.83h.45V422.5z"/><path d="M2021.39 422.5V497.63h.45V422.5z"/><path d="M2022.57 422.5V495.2h.45V422.5z"/><path d="M2023.75 422.5V493.53h.45V422.5z"/><path d="M2024.93 422.5V492.35h.45V422.5z"/><path d="M2026.11 422.5V491.7h.45V422.5z"/><path d="M2027.29 422.5V488.2h.45V422.5z"/><path d="M2028.47 422.5V477.73h.45V422.5z"/><path d="M2029.65 422.5V472.4h.45V422.5z"/><path d="M2030.83 422.5V468.83h.45V422.5z"/><path d="M2032.01 422.5V467.1h.45V422.5z"/><path d="M2033.19 422.5V463.18h.45V422.5z"/><path d="M2034.37 422.5V460.13h.45V422.5z"/><path d="M2035.54 422.5V458.93h.45V422.5z"/><path d="M2036.72 422.5V457.75h.45V422.5z"/><path d="M2037.9 422.5V456.6h.45V422.5z"/><path d="M2039.08 422.5V455.39h.45V422.5z"/><path d="M2040.26 422.5V454.21h.45V422.5z"/><path d="M2041.44 422.5V453.2h.45V422.5z"/><path d="M2042.62 422.5V454.99h.45V422.5z"/><path d="M2043.8 422.5V456.77h.45V422.5z"/><path d="M2044.98 422.5V458.58h.45V422.5z"/><path d="M2046.16 422.5V460.53h.45V422.5z"/><path d="M2047.34 422.5V462.7h.45V422.5z"/><path d="M2048.52 422.5V461.04h.45V422.5z"/><path d="M2049.7 422.5V459.16h.45V422.5z"/><path d="M2050.88 422.5V459.1h.45V422.5z"/><path d="M2052.06 422.5V460.28h.45V422.5z"/><path d="M2053.24 422.5V461h.45V422.5z"/><path d="M2054.42 422.5V457.08h.45V422.5z"/><path d="M2055.6 422.5V454.8h.45V422.5z"/><path d="M2056.78 422.5V452.72h.45V422.5z"/><path d="M2057.96 422.5V450.97h.45V422.5z"/><path d="M2059.14 422.5V449.6h.45V422.5z"/><path d="M2060.31 422.5V447.42h.45V422.5z"/><path d="M2061.49 422.5V445.63h.45V422.5z"/><path d="M2062.67 422.5V444.3h.45V422.5z"/><path d="M2063.85 422.5V437.07h.45V422.5z"/><path d="M2065.03 422.5V425.36h.45V422.5z"/><path d="M2066.21 422.5V421.73h.45V422.5z"/><path d="M2067.39 422.5V419h.45V422.5z"/><path d="M2068.57 422.5V419h.45V422.5z"/><path d="M2069.75 422.5V419h.45V422.5z"/><path d="M2070.93 422.5V419h.45V422.5z"/><path d="M2072.11 422.5V419h.45V422.5z"/><path d="M2073.29 422.5V419h.45V422.5z"/><path d="M2074.47 422.5V419h.45V422.5z"/><path d="M2075.65 422.5V420.53h.45V422.5z"/><path d="M2085.09 422.5V421.59h.45V422.5z"/><path d="M2086.26 422.5V420.4h.45V422.5z"/><path d="M2087.44 422.5V417.27h.45V422.5z"/><path d="M2088.62 422.5V414h.45V422.5z"/><path d="M2089.8 422.5V409.61h.45V422.5z"/><path d="M2090.98 422.5V403.5h.45V422.5z"/><path d="M2092.16 422.5V401.65h.45V422.5z"/><path d="M2093.34 422.5V398.89h.45V422.5z"/><path d="M2094.52 422.5V397.4h.45V422.5z"/><path d="M2095.7 422.5V401.45h.45V422.5z"/><path d="M2096.88 422.5V401.66h.45V422.5z"/><path d="M2098.06 422.5V394.53h.45V422.5z"/><path d="M2099.24 422.5V387.11h.45V422.5z"/><path d="M2100.42 422.5V368.6h.45V422.5z"/><path d="M2101.6 422.5V365.37h.45V422.5z"/><path d="M2102.78 422.5V359.45h.45V422.5z"/><path d="M2103.96 422.5V353.7h.45V422.5z"/><path d="M2105.14 422.5V359.5h.45V422.5z"/><path d="M2106.32 422.5V368.6h.45V422.5z"/><path d="M2107.5 422.5V375.66h.45V422.5z"/><path d="M2108.68 422.5V381.97h.45V422.5z"/><path d="M2109.86 422.5V376.26h.45V422.5z"/><path d="M2111.03 422.5V369.72h.45V422.5z"/><path d="M2112.21 422.5V363.3h.45V422.5z"/><path d="M2113.39 422.5V359.56h.45V422.5z"/><path d="M2114.57 422.5V354.6h.45V422.5z"/><path d="M2115.75 422.5V350.36h.45V422.5z"/><path d="M2116.93 422.5V344.57h.45V422.5z"/><path d="M2118.11 422.5V337.1h.45V422.5z"/><path d="M2119.29 422.5V344.23h.45V422.5z"/><path d="M2120.47 422.5V350.33h.45V422.5z"/><path d="M2121.65 422.5V346.7h.45V422.5z"/><path d="M2122.83 422.5V344.42h.45V422.5z"/><path d="M2124.01 422.5V342.28h.45V422.5z"/><path d="M2125.19 422.5V341.88h.45V422.5z"/><path d="M2126.37 422.5V341.5h.45V422.5z"/><path d="M2127.55 422.5V345.37h.45V422.5z"/><path d="M2128.73 422.5V348.95h.45V422.5z"/><path d="M2129.91 422.5V354.92h.45V422.5z"/><path d="M2131.09 422.5V361.23h.45V422.5z"/><path d="M2132.27 422.5V364.09h.45V422.5z"/><path d="M2133.45 422.5V365.27h.45V422.5z"/><path d="M2134.63 422.5V365.9h.45V422.5z"/><path d="M2135.81 422.5V367.63h.45V422.5z"/><path d="M2136.98 422.5V368.04h.45V422.5z"/><path d="M2138.16 422.5V364.86h.45V422.5z"/><path d="M2139.34 422.5V361.6h.45V422.5z"/><path d="M2140.52 422.5V379.3h.45V422.5z"/><path d="M2141.7 422.5V386.57h.45V422.5z"/><path d="M2142.88 422.5V384.25h.45V422.5z"/><path d="M2144.06 422.5V382.5h.45V422.5z"/><path d="M2145.24 422.5V393.33h.45V422.5z"/><path d="M2146.42 422.5V401.11h.45V422.5z"/><path d="M2147.6 422.5V379.9h.45V422.5z"/><path d="M2148.78 422.5V391.18h.45V422.5z"/><path d="M2149.96 422.5V407.57h.45V422.5z"/><path d="M2151.14 422.5V386h.45V422.5z"/><path d="M2152.32 422.5V390h.45V422.5z"/><path d="M2153.5 422.5V396.36h.45V422.5z"/><path d="M2154.68 422.5V400h.45V422.5z"/><path d="M2155.86 422.5V404.18h.45V422.5z"/><path d="M2157.04 422.5V407.11h.45V422.5z"/><path d="M2158.22 422.5V408.7h.45V422.5z"/><path d="M2160.58 422.5V423.3h.45V422.5z"/><path d="M2161.75 422.5V425.52h.45V422.5z"/><path d="M2162.93 422.5V426.8h.45V422.5z"/><path d="M2164.11 422.5V425.65h.45V422.5z"/><path d="M2165.29 422.5V424.87h.45V422.5z"/><path d="M2166.47 422.5V424.09h.45V422.5z"/><path d="M2167.65 422.5V423.31h.45V422.5z"/><path d="M2168.83 422.5V428.5h.45V422.5z"/><path d="M2170.01 422.5V431h.45V422.5z"/><path d="M2171.19 422.5V435.63h.45V422.5z"/><path d="M2172.37 422.5V439.51h.45V422.5z"/><path d="M2173.55 422.5V441.15h.45V422.5z"/><path d="M2174.73 422.5V442.78h.45V422.5z"/><path d="M2175.91 422.5V445.2h.45V422.5z"/><path d="M2177.09 422.5V445.07h.45V422.5z"/><path d="M2178.27 422.5V444.83h.45V422.5z"/><path d="M2179.45 422.5V444.59h.45V422.5z"/><path d="M2180.63 422.5V444.35h.45V422.5z"/><path d="M2181.81 422.5V444.1h.45V422.5z"/><path d="M2182.99 422.5V443.86h.45V422.5z"/><path d="M2184.17 422.5V443.61h.45V422.5z"/><path d="M2185.35 422.5V443.86h.45V422.5z"/><path d="M2186.53 422.5V447.04h.45V422.5z"/><path d="M2187.7 422.5V450.22h.45V422.5z"/><path d="M2188.88 422.5V453.24h.45V422.5z"/><path d="M2190.06 422.5V454.72h.45V422.5z"/><path d="M2191.24 422.5V456.2h.45V422.5z"/><path d="M2192.42 422.5V457.54h.45V422.5z"/><path d="M2193.6 422.5V457.84h.45V422.5z"/><path d="M2194.78 422.5V458.14h.45V422.5z"/><path d="M2195.96 422.5V458.4h.45V422.5z"/><path d="M2197.14 422.5V452.83h.45V422.5z"/><path d="M2198.32 422.5V448.02h.45V422.5z"/><path d="M2199.5 422.5V447.37h.45V422.5z"/><path d="M2200.68 422.5V446.91h.45V422.5z"/><path d="M2201.86 422.5V446.45h.45V422.5z"/><path d="M2203.04 422.5V446.1h.45V422.5z"/><path d="M2204.22 422.5V444.88h.45V422.5z"/><path d="M2205.4 422.5V443.88h.45V422.5z"/><path d="M2206.58 422.5V442.88h.45V422.5z"/><path d="M2207.76 422.5V441.88h.45V422.5z"/><path d="M2208.94 422.5V442.87h.45V422.5z"/><path d="M2210.12 422.5V444.32h.45V422.5z"/><path d="M2211.3 422.5V446.1h.45V422.5z"/><path d="M2212.47 422.5V445.37h.45V422.5z"/><path d="M2213.65 422.5V444.41h.45V422.5z"/><path d="M2214.83 422.5V443.45h.45V422.5z"/><path d="M2216.01 422.5V442.6h.45V422.5z"/><path d="M2217.19 422.5V440.01h.45V422.5z"/><path d="M2218.37 422.5V437.7h.45V422.5z"/><path d="M2219.55 422.5V433.99h.45V422.5z"/><path d="M2220.73 422.5V430h.45V422.5z"/><path d="M2221.91 422.5V429.26h.45V422.5z"/><path d="M2223.09 422.5V430.49h.45V422.5z"/><path d="M2224.27 422.5V431.2h.45V422.5z"/><path d="M2225.45 422.5V429.09h.45V422.5z"/><path d="M2226.63 422.5V427.61h.45V422.5z"/><path d="M2227.81 422.5V426.8h.45V422.5z"/><path d="M2228.99 422.5V425.44h.45V422.5z"/><path d="M2230.17 422.5V424.5h.45V422.5z"/><path d="M2231.35 422.5V423.56h.45V422.5z"/></g><g fill="url(#bb)" fill-opacity="1"><path d="M182.05 422.5V424.36h.45V422.5z"/><path d="M183.23 422.5V426.07h.45V422.5z"/><path d="M184.41 422.5V427.6h.45V422.5z"/><path d="M185.59 422.5V425.69h.45V422.5z"/><path d="M186.77 422.5V423.97h.45V422.5z"/><path d="M187.95 422.5V421.39h.45V422.5z"/><path d="M189.13 422.5V416h.45V422.5z"/><path d="M190.3 422.5V416h.45V422.5z"/><path d="M191.48 422.5V419.23h.45V422.5z"/><path d="M192.66 422.5V413h.45V422.5z"/><path d="M193.84 422.5V412.11h.45V422.5z"/><path d="M195.02 422.5V411h.45V422.5z"/><path d="M196.2 422.5V412.28h.45V422.5z"/><path d="M197.38 422.5V415.43h.45V422.5z"/><path d="M198.56 422.5V420.15h.45V422.5z"/><path d="M369.59 422.5V422.12h.45V422.5z"/><path d="M370.77 422.5V421.57h.45V422.5z"/><path d="M371.95 422.5V421.02h.45V422.5z"/><path d="M373.13 422.5V420.47h.45V422.5z"/><path d="M374.31 422.5V419.93h.45V422.5z"/><path d="M375.49 422.5V419.2h.45V422.5z"/><path d="M376.67 422.5V418.7h.45V422.5z"/><path d="M377.85 422.5V417.96h.45V422.5z"/><path d="M379.03 422.5V417.22h.45V422.5z"/><path d="M380.21 422.5V416.48h.45V422.5z"/><path d="M381.39 422.5V415.73h.45V422.5z"/><path d="M382.57 422.5V414.8h.45V422.5z"/><path d="M383.75 422.5V413.28h.45V422.5z"/><path d="M384.93 422.5V411.22h.45V422.5z"/><path d="M386.11 422.5V408.7h.45V422.5z"/><path d="M387.29 422.5V407.93h.45V422.5z"/><path d="M388.47 422.5V406.93h.45V422.5z"/><path d="M389.65 422.5V405.93h.45V422.5z"/><path d="M390.83 422.5V404.93h.45V422.5z"/><path d="M392.01 422.5V403.25h.45V422.5z"/><path d="M393.18 422.5V400.37h.45V422.5z"/><path d="M394.36 422.5V397.48h.45V422.5z"/><path d="M395.54 422.5V394.58h.45V422.5z"/><path d="M396.72 422.5V391.65h.45V422.5z"/><path d="M397.9 422.5V388.72h.45V422.5z"/><path d="M399.08 422.5V385.78h.45V422.5z"/><path d="M400.26 422.5V382.81h.45V422.5z"/><path d="M401.44 422.5V379.84h.45V422.5z"/><path d="M402.62 422.5V376.66h.45V422.5z"/><path d="M403.8 422.5V373.12h.45V422.5z"/><path d="M404.98 422.5V369.59h.45V422.5z"/><path d="M406.16 422.5V365.55h.45V422.5z"/><path d="M407.34 422.5V360.8h.45V422.5z"/><path d="M408.52 422.5V356.04h.45V422.5z"/><path d="M409.7 422.5V350.78h.45V422.5z"/><path d="M410.88 422.5V344.89h.45V422.5z"/><path d="M412.06 422.5V338.99h.45V422.5z"/><path d="M413.24 422.5V332.49h.45V422.5z"/><path d="M414.42 422.5V325.32h.45V422.5z"/><path d="M415.6 422.5V319.29h.45V422.5z"/><path d="M416.78 422.5V316.33h.45V422.5z"/><path d="M417.95 422.5V313.36h.45V422.5z"/><path d="M419.13 422.5V310.95h.45V422.5z"/><path d="M420.31 422.5V309.8h.45V422.5z"/><path d="M421.49 422.5V308.66h.45V422.5z"/><path d="M422.67 422.5V307.68h.45V422.5z"/><path d="M423.85 422.5V307.23h.45V422.5z"/><path d="M425.03 422.5V306.77h.45V422.5z"/><path d="M426.21 422.5V306.1h.45V422.5z"/><path d="M427.39 422.5V305.47h.45V422.5z"/><path d="M428.57 422.5V304.25h.45V422.5z"/><path d="M429.75 422.5V302.5h.45V422.5z"/><path d="M430.93 422.5V300.54h.45V422.5z"/><path d="M432.11 422.5V297h.45V422.5z"/><path d="M433.29 422.5V293.86h.45V422.5z"/><path d="M434.47 422.5V291.45h.45V422.5z"/><path d="M435.65 422.5V289.36h.45V422.5z"/><path d="M436.83 422.5V289.05h.45V422.5z"/><path d="M438.01 422.5V288.75h.45V422.5z"/><path d="M439.19 422.5V288.5h.45V422.5z"/><path d="M440.37 422.5V290.61h.45V422.5z"/><path d="M441.55 422.5V292.39h.45V422.5z"/><path d="M442.72 422.5V293.8h.45V422.5z"/><path d="M443.9 422.5V298.41h.45V422.5z"/><path d="M445.08 422.5V302.21h.45V422.5z"/><path d="M446.26 422.5V306.18h.45V422.5z"/><path d="M447.44 422.5V310.18h.45V422.5z"/><path d="M448.62 422.5V314.17h.45V422.5z"/><path d="M449.8 422.5V318.16h.45V422.5z"/><path d="M450.98 422.5V329h.45V422.5z"/><path d="M452.16 422.5V347.97h.45V422.5z"/><path d="M453.34 422.5V359.03h.45V422.5z"/><path d="M454.52 422.5V369.02h.45V422.5z"/><path d="M455.7 422.5V378h.45V422.5z"/><path d="M456.88 422.5V386.71h.45V422.5z"/><path d="M458.06 422.5V395.62h.45V422.5z"/><path d="M459.24 422.5V404.3h.45V422.5z"/><path d="M460.42 422.5V414.04h.45V422.5z"/><path d="M461.6 422.5V419.38h.45V422.5z"/><path d="M462.78 422.5V421.24h.45V422.5z"/><path d="M463.96 422.5V434h.45V422.5z"/><path d="M465.14 422.5V440.84h.45V422.5z"/><path d="M466.32 422.5V452.24h.45V422.5z"/><path d="M467.5 422.5V457.61h.45V422.5z"/><path d="M468.67 422.5V463.9h.45V422.5z"/><path d="M469.85 422.5V467.18h.45V422.5z"/><path d="M471.03 422.5V472.6h.45V422.5z"/><path d="M472.21 422.5V475.61h.45V422.5z"/><path d="M473.39 422.5V480.42h.45V422.5z"/><path d="M474.57 422.5V485.45h.45V422.5z"/><path d="M475.75 422.5V490.77h.45V422.5z"/><path d="M476.93 422.5V496.09h.45V422.5z"/><path d="M478.11 422.5V504.21h.45V422.5z"/><path d="M479.29 422.5V516.5h.45V422.5z"/><path d="M480.47 422.5V527.77h.45V422.5z"/><path d="M481.65 422.5V538.47h.45V422.5z"/><path d="M482.83 422.5V547.64h.45V422.5z"/><path d="M484.01 422.5V559.72h.45V422.5z"/><path d="M485.19 422.5V578.36h.45V422.5z"/><path d="M486.37 422.5V591.3h.45V422.5z"/><path d="M487.55 422.5V595.63h.45V422.5z"/><path d="M488.73 422.5V602.2h.45V422.5z"/><path d="M489.91 422.5V604.11h.45V422.5z"/><path d="M491.09 422.5V607.18h.45V422.5z"/><path d="M492.27 422.5V609.5h.45V422.5z"/><path d="M493.44 422.5V605.53h.45V422.5z"/><path d="M494.62 422.5V602.34h.45V422.5z"/><path d="M495.8 422.5V597.64h.45V422.5z"/><path d="M496.98 422.5V592.88h.45V422.5z"/><path d="M498.16 422.5V587.07h.45V422.5z"/><path d="M499.34 422.5V580.73h.45V422.5z"/><path d="M500.52 422.5V576.8h.45V422.5z"/><path d="M501.7 422.5V565.93h.45V422.5z"/><path d="M502.88 422.5V555h.45V422.5z"/><path d="M504.06 422.5V552.5h.45V422.5z"/><path d="M505.24 422.5V551h.45V422.5z"/><path d="M506.42 422.5V551h.45V422.5z"/><path d="M507.6 422.5V551h.45V422.5z"/><path d="M508.78 422.5V551h.45V422.5z"/><path d="M509.96 422.5V554.75h.45V422.5z"/><path d="M511.14 422.5V562.18h.45V422.5z"/><path d="M512.32 422.5V566h.45V422.5z"/><path d="M513.5 422.5V522.06h.45V422.5z"/><path d="M514.68 422.5V517.56h.45V422.5z"/><path d="M515.86 422.5V515.67h.45V422.5z"/><path d="M517.04 422.5V515.51h.45V422.5z"/><path d="M518.22 422.5V521.57h.45V422.5z"/><path d="M519.39 422.5V536.55h.45V422.5z"/><path d="M520.57 422.5V551.74h.45V422.5z"/><path d="M521.75 422.5V564.71h.45V422.5z"/><path d="M522.93 422.5V571h.45V422.5z"/><path d="M524.11 422.5V567.48h.45V422.5z"/><path d="M525.29 422.5V567.14h.45V422.5z"/><path d="M526.47 422.5V569.33h.45V422.5z"/><path d="M527.65 422.5V571.13h.45V422.5z"/><path d="M528.83 422.5V571.66h.45V422.5z"/><path d="M530.01 422.5V572.2h.45V422.5z"/><path d="M531.19 422.5V573h.45V422.5z"/><path d="M532.37 422.5V573.94h.45V422.5z"/><path d="M533.55 422.5V575.79h.45V422.5z"/><path d="M534.73 422.5V577.65h.45V422.5z"/><path d="M535.91 422.5V580.4h.45V422.5z"/><path d="M537.09 422.5V579.17h.45V422.5z"/><path d="M538.27 422.5V576.82h.45V422.5z"/><path d="M539.45 422.5V575.24h.45V422.5z"/><path d="M540.63 422.5V573.68h.45V422.5z"/><path d="M541.81 422.5V572.11h.45V422.5z"/><path d="M542.99 422.5V570.55h.45V422.5z"/><path d="M544.16 422.5V569.5h.45V422.5z"/><path d="M545.34 422.5V564.75h.45V422.5z"/><path d="M546.52 422.5V561.18h.45V422.5z"/><path d="M547.7 422.5V558.6h.45V422.5z"/><path d="M548.88 422.5V553.33h.45V422.5z"/><path d="M550.06 422.5V548.14h.45V422.5z"/><path d="M551.24 422.5V542.95h.45V422.5z"/><path d="M552.42 422.5V538.26h.45V422.5z"/><path d="M553.6 422.5V533.58h.45V422.5z"/><path d="M554.78 422.5V528.91h.45V422.5z"/><path d="M555.96 422.5V524.24h.45V422.5z"/><path d="M557.14 422.5V521.8h.45V422.5z"/><path d="M558.32 422.5V514.15h.45V422.5z"/><path d="M559.5 422.5V508.98h.45V422.5z"/><path d="M560.68 422.5V503.81h.45V422.5z"/><path d="M561.86 422.5V499h.45V422.5z"/><path d="M563.04 422.5V492.71h.45V422.5z"/><path d="M564.22 422.5V486.84h.45V422.5z"/><path d="M565.4 422.5V480.96h.45V422.5z"/><path d="M566.58 422.5V475.09h.45V422.5z"/><path d="M567.76 422.5V469.22h.45V422.5z"/><path d="M568.94 422.5V463.37h.45V422.5z"/><path d="M570.11 422.5V457.52h.45V422.5z"/><path d="M571.29 422.5V451.66h.45V422.5z"/><path d="M572.47 422.5V446.3h.45V422.5z"/><path d="M573.65 422.5V439.39h.45V422.5z"/><path d="M574.83 422.5V433.01h.45V422.5z"/><path d="M576.01 422.5V426.63h.45V422.5z"/><path d="M578.37 422.5V392h.45V422.5z"/><path d="M579.55 422.5V386.8h.45V422.5z"/><path d="M580.73 422.5V378.34h.45V422.5z"/><path d="M581.91 422.5V364.8h.45V422.5z"/><path d="M583.09 422.5V356.69h.45V422.5z"/><path d="M584.27 422.5V318.3h.45V422.5z"/><path d="M585.45 422.5V314.4h.45V422.5z"/><path d="M586.63 422.5V308.46h.45V422.5z"/><path d="M587.81 422.5V298.87h.45V422.5z"/><path d="M588.99 422.5V285h.45V422.5z"/><path d="M590.17 422.5V287.21h.45V422.5z"/><path d="M591.35 422.5V272.8h.45V422.5z"/><path d="M592.53 422.5V266.65h.45V422.5z"/><path d="M593.71 422.5V258.57h.45V422.5z"/><path d="M594.88 422.5V250h.45V422.5z"/><path d="M596.06 422.5V245.29h.45V422.5z"/><path d="M597.24 422.5V237.46h.45V422.5z"/><path d="M598.42 422.5V223.7h.45V422.5z"/><path d="M599.6 422.5V215.61h.45V422.5z"/><path d="M600.78 422.5V205.76h.45V422.5z"/><path d="M601.96 422.5V195.6h.45V422.5z"/><path d="M603.14 422.5V189.48h.45V422.5z"/><path d="M604.32 422.5V183.7h.45V422.5z"/><path d="M605.5 422.5V186.04h.45V422.5z"/><path d="M606.68 422.5V189.5h.45V422.5z"/><path d="M607.86 422.5V197.64h.45V422.5z"/><path d="M609.04 422.5V209.14h.45V422.5z"/><path d="M610.22 422.5V222h.45V422.5z"/><path d="M611.4 422.5V230.82h.45V422.5z"/><path d="M612.58 422.5V244.93h.45V422.5z"/><path d="M613.76 422.5V262.96h.45V422.5z"/><path d="M614.94 422.5V269h.45V422.5z"/><path d="M616.12 422.5V279.62h.45V422.5z"/><path d="M617.3 422.5V288.62h.45V422.5z"/><path d="M618.48 422.5V314.7h.45V422.5z"/><path d="M619.65 422.5V323.89h.45V422.5z"/><path d="M620.83 422.5V331.74h.45V422.5z"/><path d="M622.01 422.5V336h.45V422.5z"/><path d="M623.19 422.5V341.16h.45V422.5z"/><path d="M624.37 422.5V343.8h.45V422.5z"/><path d="M625.55 422.5V334.58h.45V422.5z"/><path d="M626.73 422.5V325h.45V422.5z"/><path d="M627.91 422.5V318.22h.45V422.5z"/><path d="M629.09 422.5V307.7h.45V422.5z"/><path d="M630.27 422.5V303.73h.45V422.5z"/><path d="M631.45 422.5V295.88h.45V422.5z"/><path d="M632.63 422.5V286.4h.45V422.5z"/><path d="M633.81 422.5V280.15h.45V422.5z"/><path d="M634.99 422.5V272.26h.45V422.5z"/><path d="M636.17 422.5V264.26h.45V422.5z"/><path d="M637.35 422.5V254.9h.45V422.5z"/><path d="M638.53 422.5V245.53h.45V422.5z"/><path d="M639.71 422.5V235.29h.45V422.5z"/><path d="M640.89 422.5V223.54h.45V422.5z"/><path d="M642.07 422.5V207.7h.45V422.5z"/><path d="M643.25 422.5V203.58h.45V422.5z"/><path d="M644.43 422.5V197.28h.45V422.5z"/><path d="M645.6 422.5V190.6h.45V422.5z"/><path d="M646.78 422.5V189.49h.45V422.5z"/><path d="M647.96 422.5V188.5h.45V422.5z"/><path d="M649.14 422.5V189.94h.45V422.5z"/><path d="M650.32 422.5V192.69h.45V422.5z"/><path d="M651.5 422.5V195.6h.45V422.5z"/><path d="M652.68 422.5V209.2h.45V422.5z"/><path d="M653.86 422.5V219.48h.45V422.5z"/><path d="M655.04 422.5V227h.45V422.5z"/><path d="M656.22 422.5V241h.45V422.5z"/><path d="M657.4 422.5V258.87h.45V422.5z"/><path d="M658.58 422.5V280h.45V422.5z"/><path d="M659.76 422.5V312.13h.45V422.5z"/><path d="M660.94 422.5V346.6h.45V422.5z"/><path d="M662.12 422.5V351.4h.45V422.5z"/><path d="M663.3 422.5V355.1h.45V422.5z"/><path d="M664.48 422.5V361.51h.45V422.5z"/><path d="M665.66 422.5V366.9h.45V422.5z"/><path d="M666.84 422.5V372.29h.45V422.5z"/><path d="M668.02 422.5V377.23h.45V422.5z"/><path d="M669.2 422.5V381.89h.45V422.5z"/><path d="M670.37 422.5V386.56h.45V422.5z"/><path d="M671.55 422.5V391.22h.45V422.5z"/><path d="M672.73 422.5V402.13h.45V422.5z"/><path d="M673.91 422.5V413.15h.45V422.5z"/><path d="M675.09 422.5V421.2h.45V422.5z"/><path d="M676.27 422.5V425.81h.45V422.5z"/><path d="M677.45 422.5V437.5h.45V422.5z"/><path d="M678.63 422.5V441.4h.45V422.5z"/><path d="M679.81 422.5V448.1h.45V422.5z"/><path d="M680.99 422.5V454.38h.45V422.5z"/><path d="M682.17 422.5V465.67h.45V422.5z"/><path d="M683.35 422.5V495.5h.45V422.5z"/><path d="M684.53 422.5V511.63h.45V422.5z"/><path d="M685.71 422.5V537.51h.45V422.5z"/><path d="M686.89 422.5V565.35h.45V422.5z"/><path d="M688.07 422.5V591.3h.45V422.5z"/><path d="M689.25 422.5V605.42h.45V422.5z"/><path d="M690.43 422.5V617.73h.45V422.5z"/><path d="M691.61 422.5V624.85h.45V422.5z"/><path d="M692.79 422.5V632.91h.45V422.5z"/><path d="M693.97 422.5V653.1h.45V422.5z"/><path d="M695.15 422.5V690.4h.45V422.5z"/><path d="M696.32 422.5V678h.45V422.5z"/><path d="M697.5 422.5V609.5h.45V422.5z"/><path d="M698.68 422.5V592.41h.45V422.5z"/><path d="M699.86 422.5V556h.45V422.5z"/><path d="M701.04 422.5V480h.45V422.5z"/><path d="M702.22 422.5V483.38h.45V422.5z"/><path d="M703.4 422.5V490.2h.45V422.5z"/><path d="M704.58 422.5V497.27h.45V422.5z"/><path d="M705.76 422.5V511.2h.45V422.5z"/><path d="M706.94 422.5V525.3h.45V422.5z"/><path d="M708.12 422.5V502.73h.45V422.5z"/><path d="M709.3 422.5V497.12h.45V422.5z"/><path d="M710.48 422.5V494.71h.45V422.5z"/><path d="M711.66 422.5V493.48h.45V422.5z"/><path d="M712.84 422.5V493.1h.45V422.5z"/><path d="M714.02 422.5V492.72h.45V422.5z"/><path d="M715.2 422.5V492.35h.45V422.5z"/><path d="M716.38 422.5V492.25h.45V422.5z"/><path d="M717.56 422.5V495.13h.45V422.5z"/><path d="M718.74 422.5V498.01h.45V422.5z"/><path d="M719.92 422.5V500.89h.45V422.5z"/><path d="M721.09 422.5V502.83h.45V422.5z"/><path d="M722.27 422.5V503.57h.45V422.5z"/><path d="M723.45 422.5V505.1h.45V422.5z"/><path d="M724.63 422.5V511.03h.45V422.5z"/><path d="M725.81 422.5V516.96h.45V422.5z"/><path d="M726.99 422.5V522.67h.45V422.5z"/><path d="M728.17 422.5V527.39h.45V422.5z"/><path d="M729.35 422.5V532.11h.45V422.5z"/><path d="M730.53 422.5V536.57h.45V422.5z"/><path d="M731.71 422.5V540.11h.45V422.5z"/><path d="M732.89 422.5V543.65h.45V422.5z"/><path d="M734.07 422.5V547.03h.45V422.5z"/><path d="M735.25 422.5V549.96h.45V422.5z"/><path d="M736.43 422.5V552.9h.45V422.5z"/><path d="M737.61 422.5V555.48h.45V422.5z"/><path d="M738.79 422.5V557.16h.45V422.5z"/><path d="M739.97 422.5V558.85h.45V422.5z"/><path d="M741.15 422.5V560h.45V422.5z"/><path d="M742.33 422.5V559.01h.45V422.5z"/><path d="M743.51 422.5V558.25h.45V422.5z"/><path d="M744.69 422.5V557.5h.45V422.5z"/><path d="M745.86 422.5V556.8h.45V422.5z"/><path d="M747.04 422.5V556.47h.45V422.5z"/><path d="M748.22 422.5V556.17h.45V422.5z"/><path d="M749.4 422.5V555.87h.45V422.5z"/><path d="M750.58 422.5V555.56h.45V422.5z"/><path d="M751.76 422.5V555.26h.45V422.5z"/><path d="M752.94 422.5V555h.45V422.5z"/><path d="M754.12 422.5V554.42h.45V422.5z"/><path d="M755.3 422.5V553.92h.45V422.5z"/><path d="M756.48 422.5V553.41h.45V422.5z"/><path d="M757.66 422.5V552.91h.45V422.5z"/><path d="M758.84 422.5V552.4h.45V422.5z"/><path d="M760.02 422.5V552h.45V422.5z"/><path d="M761.2 422.5V550.93h.45V422.5z"/><path d="M762.38 422.5V550.05h.45V422.5z"/><path d="M763.56 422.5V549.16h.45V422.5z"/><path d="M764.74 422.5V547.07h.45V422.5z"/><path d="M765.92 422.5V544.72h.45V422.5z"/><path d="M767.1 422.5V543h.45V422.5z"/><path d="M768.28 422.5V536.5h.45V422.5z"/><path d="M769.46 422.5V531.38h.45V422.5z"/><path d="M770.64 422.5V525.87h.45V422.5z"/><path d="M771.81 422.5V520.21h.45V422.5z"/><path d="M772.99 422.5V513.68h.45V422.5z"/><path d="M774.17 422.5V506.61h.45V422.5z"/><path d="M775.35 422.5V505.3h.45V422.5z"/><path d="M776.53 422.5V504.54h.45V422.5z"/><path d="M777.71 422.5V504h.45V422.5z"/><path d="M778.89 422.5V499.4h.45V422.5z"/><path d="M780.07 422.5V495.83h.45V422.5z"/><path d="M781.25 422.5V493.7h.45V422.5z"/><path d="M782.43 422.5V489.86h.45V422.5z"/><path d="M783.61 422.5V487.12h.45V422.5z"/><path d="M784.79 422.5V484.38h.45V422.5z"/><path d="M785.97 422.5V481.65h.45V422.5z"/><path d="M787.15 422.5V476.03h.45V422.5z"/><path d="M788.33 422.5V470.13h.45V422.5z"/><path d="M789.51 422.5V464.24h.45V422.5z"/><path d="M790.69 422.5V459.99h.45V422.5z"/><path d="M791.87 422.5V455.85h.45V422.5z"/><path d="M793.05 422.5V451.7h.45V422.5z"/><path d="M794.23 422.5V442.58h.45V422.5z"/><path d="M795.41 422.5V437.5h.45V422.5z"/><path d="M798.94 422.5V419.46h.45V422.5z"/><path d="M800.12 422.5V397.3h.45V422.5z"/><path d="M801.3 422.5V378h.45V422.5z"/><path d="M802.48 422.5V374.46h.45V422.5z"/><path d="M803.66 422.5V367.5h.45V422.5z"/><path d="M804.84 422.5V365.06h.45V422.5z"/><path d="M806.02 422.5V361.71h.45V422.5z"/><path d="M807.2 422.5V354.77h.45V422.5z"/><path d="M808.38 422.5V327.1h.45V422.5z"/><path d="M809.56 422.5V315.76h.45V422.5z"/><path d="M810.74 422.5V296.82h.45V422.5z"/><path d="M811.92 422.5V286.8h.45V422.5z"/><path d="M813.1 422.5V286.8h.45V422.5z"/><path d="M814.28 422.5V286.8h.45V422.5z"/><path d="M815.46 422.5V293.68h.45V422.5z"/><path d="M816.64 422.5V293.87h.45V422.5z"/><path d="M817.82 422.5V287.61h.45V422.5z"/><path d="M819 422.5V277.2h.45V422.5z"/><path d="M820.18 422.5V271.06h.45V422.5z"/><path d="M821.36 422.5V260.27h.45V422.5z"/><path d="M822.53 422.5V246.5h.45V422.5z"/><path d="M823.71 422.5V234.6h.45V422.5z"/><path d="M824.89 422.5V234.89h.45V422.5z"/><path d="M826.07 422.5V235.1h.45V422.5z"/><path d="M827.25 422.5V250h.45V422.5z"/><path d="M828.43 422.5V264h.45V422.5z"/><path d="M829.61 422.5V278h.45V422.5z"/><path d="M830.79 422.5V281.87h.45V422.5z"/><path d="M831.97 422.5V285h.45V422.5z"/><path d="M833.15 422.5V289.29h.45V422.5z"/><path d="M834.33 422.5V292.43h.45V422.5z"/><path d="M835.51 422.5V295.36h.45V422.5z"/><path d="M836.69 422.5V298.29h.45V422.5z"/><path d="M837.87 422.5V302.14h.45V422.5z"/><path d="M839.05 422.5V306.29h.45V422.5z"/><path d="M840.23 422.5V310.43h.45V422.5z"/><path d="M841.41 422.5V315.06h.45V422.5z"/><path d="M842.59 422.5V319.83h.45V422.5z"/><path d="M843.77 422.5V325.18h.45V422.5z"/><path d="M844.95 422.5V330.6h.45V422.5z"/><path d="M846.13 422.5V337.47h.45V422.5z"/><path d="M847.3 422.5V334.1h.45V422.5z"/><path d="M848.48 422.5V321.31h.45V422.5z"/><path d="M849.66 422.5V307.69h.45V422.5z"/><path d="M850.84 422.5V295.5h.45V422.5z"/><path d="M852.02 422.5V283.86h.45V422.5z"/><path d="M853.2 422.5V273.33h.45V422.5z"/><path d="M854.38 422.5V267.34h.45V422.5z"/><path d="M855.56 422.5V258.84h.45V422.5z"/><path d="M856.74 422.5V240.64h.45V422.5z"/><path d="M857.92 422.5V228.37h.45V422.5z"/><path d="M859.1 422.5V217.64h.45V422.5z"/><path d="M860.28 422.5V209.44h.45V422.5z"/><path d="M861.46 422.5V206.2h.45V422.5z"/><path d="M862.64 422.5V205.84h.45V422.5z"/><path d="M863.82 422.5V205.44h.45V422.5z"/><path d="M865 422.5V205.03h.45V422.5z"/><path d="M866.18 422.5V204.7h.45V422.5z"/><path d="M867.36 422.5V205.96h.45V422.5z"/><path d="M868.54 422.5V207.04h.45V422.5z"/><path d="M869.72 422.5V207.9h.45V422.5z"/><path d="M870.9 422.5V218.18h.45V422.5z"/><path d="M872.08 422.5V288.5h.45V422.5z"/><path d="M873.25 422.5V231.6h.45V422.5z"/><path d="M874.43 422.5V259.08h.45V422.5z"/><path d="M875.61 422.5V289.97h.45V422.5z"/><path d="M876.79 422.5V282.5h.45V422.5z"/><path d="M877.97 422.5V305.19h.45V422.5z"/><path d="M879.15 422.5V316.6h.45V422.5z"/><path d="M880.33 422.5V331.26h.45V422.5z"/><path d="M881.51 422.5V344.86h.45V422.5z"/><path d="M882.69 422.5V357h.45V422.5z"/><path d="M883.87 422.5V365.78h.45V422.5z"/><path d="M885.05 422.5V372.69h.45V422.5z"/><path d="M886.23 422.5V378h.45V422.5z"/><path d="M887.41 422.5V382.35h.45V422.5z"/><path d="M888.59 422.5V386.19h.45V422.5z"/><path d="M889.77 422.5V388.14h.45V422.5z"/><path d="M890.95 422.5V389.72h.45V422.5z"/><path d="M892.13 422.5V392.32h.45V422.5z"/><path d="M893.31 422.5V395.5h.45V422.5z"/><path d="M894.49 422.5V397.3h.45V422.5z"/><path d="M895.67 422.5V403.87h.45V422.5z"/><path d="M896.85 422.5V407.8h.45V422.5z"/><path d="M898.02 422.5V419.47h.45V422.5z"/><path d="M900.38 422.5V435.27h.45V422.5z"/><path d="M901.56 422.5V442.44h.45V422.5z"/><path d="M902.74 422.5V449.8h.45V422.5z"/><path d="M903.92 422.5V452.68h.45V422.5z"/><path d="M905.1 422.5V455.65h.45V422.5z"/><path d="M906.28 422.5V458.63h.45V422.5z"/><path d="M907.46 422.5V463.39h.45V422.5z"/><path d="M908.64 422.5V469.1h.45V422.5z"/><path d="M909.82 422.5V472.81h.45V422.5z"/><path d="M911 422.5V479.7h.45V422.5z"/><path d="M912.18 422.5V483.37h.45V422.5z"/><path d="M913.36 422.5V490.54h.45V422.5z"/><path d="M914.54 422.5V499.03h.45V422.5z"/><path d="M915.72 422.5V513h.45V422.5z"/><path d="M916.9 422.5V535.09h.45V422.5z"/><path d="M918.08 422.5V550h.45V422.5z"/><path d="M919.26 422.5V558h.45V422.5z"/><path d="M920.44 422.5V564.1h.45V422.5z"/><path d="M921.62 422.5V572.48h.45V422.5z"/><path d="M922.79 422.5V583.27h.45V422.5z"/><path d="M923.97 422.5V598.6h.45V422.5z"/><path d="M925.15 422.5V604.53h.45V422.5z"/><path d="M926.33 422.5V614.05h.45V422.5z"/><path d="M927.51 422.5V628.18h.45V422.5z"/><path d="M928.69 422.5V642.2h.45V422.5z"/><path d="M929.87 422.5V667.68h.45V422.5z"/><path d="M931.05 422.5V697.6h.45V422.5z"/><path d="M932.23 422.5V697.6h.45V422.5z"/><path d="M933.41 422.5V697.6h.45V422.5z"/><path d="M934.59 422.5V673.1h.45V422.5z"/><path d="M935.77 422.5V649.8h.45V422.5z"/><path d="M936.95 422.5V622.22h.45V422.5z"/><path d="M938.13 422.5V600h.45V422.5z"/><path d="M939.31 422.5V576h.45V422.5z"/><path d="M940.49 422.5V563.86h.45V422.5z"/><path d="M941.67 422.5V554.39h.45V422.5z"/><path d="M942.85 422.5V543.83h.45V422.5z"/><path d="M944.03 422.5V533.99h.45V422.5z"/><path d="M945.21 422.5V528h.45V422.5z"/><path d="M946.39 422.5V526.39h.45V422.5z"/><path d="M947.57 422.5V525.21h.45V422.5z"/><path d="M948.74 422.5V522.74h.45V422.5z"/><path d="M949.92 422.5V519.99h.45V422.5z"/><path d="M951.1 422.5V518h.45V422.5z"/><path d="M952.28 422.5V515.59h.45V422.5z"/><path d="M953.46 422.5V514.56h.45V422.5z"/><path d="M954.64 422.5V518.1h.45V422.5z"/><path d="M955.82 422.5V524.1h.45V422.5z"/><path d="M957 422.5V535h.45V422.5z"/><path d="M958.18 422.5V544.06h.45V422.5z"/><path d="M959.36 422.5V557.81h.45V422.5z"/><path d="M960.54 422.5V571.06h.45V422.5z"/><path d="M961.72 422.5V578h.45V422.5z"/><path d="M962.9 422.5V578.81h.45V422.5z"/><path d="M964.08 422.5V580.35h.45V422.5z"/><path d="M965.26 422.5V581.89h.45V422.5z"/><path d="M966.44 422.5V584h.45V422.5z"/><path d="M967.62 422.5V583.77h.45V422.5z"/><path d="M968.8 422.5V583.41h.45V422.5z"/><path d="M969.98 422.5V583.04h.45V422.5z"/><path d="M971.16 422.5V582.68h.45V422.5z"/><path d="M972.34 422.5V582.31h.45V422.5z"/><path d="M973.51 422.5V580.38h.45V422.5z"/><path d="M974.69 422.5V578.39h.45V422.5z"/><path d="M975.87 422.5V576.4h.45V422.5z"/><path d="M977.05 422.5V574.42h.45V422.5z"/><path d="M978.23 422.5V573.2h.45V422.5z"/><path d="M979.41 422.5V561.65h.45V422.5z"/><path d="M980.59 422.5V545.5h.45V422.5z"/><path d="M981.77 422.5V537.93h.45V422.5z"/><path d="M982.95 422.5V534h.45V422.5z"/><path d="M984.13 422.5V520.43h.45V422.5z"/><path d="M985.31 422.5V508.27h.45V422.5z"/><path d="M986.49 422.5V499h.45V422.5z"/><path d="M987.67 422.5V492.25h.45V422.5z"/><path d="M988.85 422.5V486.93h.45V422.5z"/><path d="M990.03 422.5V483.2h.45V422.5z"/><path d="M991.21 422.5V472.43h.45V422.5z"/><path d="M992.39 422.5V464.14h.45V422.5z"/><path d="M993.57 422.5V458.6h.45V422.5z"/><path d="M994.75 422.5V449.39h.45V422.5z"/><path d="M995.93 422.5V442.48h.45V422.5z"/><path d="M997.11 422.5V437.5h.45V422.5z"/><path d="M998.29 422.5V428.44h.45V422.5z"/><path d="M1000.64 422.5V419.54h.45V422.5z"/><path d="M1001.82 422.5V412.1h.45V422.5z"/><path d="M1003 422.5V404.91h.45V422.5z"/><path d="M1004.18 422.5V398.75h.45V422.5z"/><path d="M1005.36 422.5V392h.45V422.5z"/><path d="M1006.54 422.5V381.95h.45V422.5z"/><path d="M1007.72 422.5V367.5h.45V422.5z"/><path d="M1008.9 422.5V363.02h.45V422.5z"/><path d="M1010.08 422.5V356.62h.45V422.5z"/><path d="M1011.26 422.5V351.04h.45V422.5z"/><path d="M1012.44 422.5V346.27h.45V422.5z"/><path d="M1013.62 422.5V342.01h.45V422.5z"/><path d="M1014.8 422.5V338.95h.45V422.5z"/><path d="M1015.98 422.5V335.87h.45V422.5z"/><path d="M1017.16 422.5V320.1h.45V422.5z"/><path d="M1018.34 422.5V313.63h.45V422.5z"/><path d="M1019.52 422.5V302.22h.45V422.5z"/><path d="M1020.7 422.5V294.28h.45V422.5z"/><path d="M1021.88 422.5V285h.45V422.5z"/><path d="M1023.06 422.5V272.64h.45V422.5z"/><path d="M1024.23 422.5V262.3h.45V422.5z"/><path d="M1025.41 422.5V263.11h.45V422.5z"/><path d="M1026.59 422.5V265.69h.45V422.5z"/><path d="M1027.77 422.5V266.76h.45V422.5z"/><path d="M1028.95 422.5V264h.45V422.5z"/><path d="M1030.13 422.5V258.89h.45V422.5z"/><path d="M1031.31 422.5V253.37h.45V422.5z"/><path d="M1032.49 422.5V250h.45V422.5z"/><path d="M1033.67 422.5V257h.45V422.5z"/><path d="M1034.85 422.5V265.65h.45V422.5z"/><path d="M1036.03 422.5V273.62h.45V422.5z"/><path d="M1037.21 422.5V278.31h.45V422.5z"/><path d="M1038.39 422.5V280.44h.45V422.5z"/><path d="M1039.57 422.5V279.8h.45V422.5z"/><path d="M1040.75 422.5V276.52h.45V422.5z"/><path d="M1041.93 422.5V274.6h.45V422.5z"/><path d="M1043.11 422.5V283.4h.45V422.5z"/><path d="M1044.29 422.5V302.5h.45V422.5z"/><path d="M1045.47 422.5V319.77h.45V422.5z"/><path d="M1046.65 422.5V329.55h.45V422.5z"/><path d="M1047.83 422.5V335.9h.45V422.5z"/><path d="M1049.01 422.5V338.84h.45V422.5z"/><path d="M1050.18 422.5V334.95h.45V422.5z"/><path d="M1051.36 422.5V329.43h.45V422.5z"/><path d="M1052.54 422.5V324.67h.45V422.5z"/><path d="M1053.72 422.5V319.77h.45V422.5z"/><path d="M1054.9 422.5V311.79h.45V422.5z"/><path d="M1056.08 422.5V302.5h.45V422.5z"/><path d="M1057.26 422.5V281.39h.45V422.5z"/><path d="M1058.44 422.5V261.1h.45V422.5z"/><path d="M1059.62 422.5V247.4h.45V422.5z"/><path d="M1060.8 422.5V239.94h.45V422.5z"/><path d="M1061.98 422.5V224.63h.45V422.5z"/><path d="M1063.16 422.5V206.32h.45V422.5z"/><path d="M1064.34 422.5V186.05h.45V422.5z"/><path d="M1065.52 422.5V174.41h.45V422.5z"/><path d="M1066.7 422.5V168.4h.45V422.5z"/><path d="M1067.88 422.5V166.49h.45V422.5z"/><path d="M1069.06 422.5V164.4h.45V422.5z"/><path d="M1070.24 422.5V166.7h.45V422.5z"/><path d="M1071.42 422.5V168.93h.45V422.5z"/><path d="M1072.6 422.5V170.2h.45V422.5z"/><path d="M1073.78 422.5V174.61h.45V422.5z"/><path d="M1074.95 422.5V177.2h.45V422.5z"/><path d="M1076.13 422.5V192.1h.45V422.5z"/><path d="M1077.31 422.5V222.63h.45V422.5z"/><path d="M1078.49 422.5V248.3h.45V422.5z"/><path d="M1079.67 422.5V261.7h.45V422.5z"/><path d="M1080.85 422.5V262.29h.45V422.5z"/><path d="M1082.03 422.5V276.76h.45V422.5z"/><path d="M1083.21 422.5V293.85h.45V422.5z"/><path d="M1084.39 422.5V311.3h.45V422.5z"/><path d="M1085.57 422.5V322.99h.45V422.5z"/><path d="M1086.75 422.5V328.9h.45V422.5z"/><path d="M1087.93 422.5V351.7h.45V422.5z"/><path d="M1089.11 422.5V368.5h.45V422.5z"/><path d="M1090.29 422.5V381.18h.45V422.5z"/><path d="M1091.47 422.5V390.75h.45V422.5z"/><path d="M1092.65 422.5V397.3h.45V422.5z"/><path d="M1093.83 422.5V403.57h.45V422.5z"/><path d="M1095.01 422.5V407.8h.45V422.5z"/><path d="M1096.19 422.5V412.07h.45V422.5z"/><path d="M1097.37 422.5V415.92h.45V422.5z"/><path d="M1098.55 422.5V418.8h.45V422.5z"/><path d="M1099.72 422.5V421.48h.45V422.5z"/><path d="M1102.08 422.5V438.4h.45V422.5z"/><path d="M1103.26 422.5V451.6h.45V422.5z"/><path d="M1104.44 422.5V456.85h.45V422.5z"/><path d="M1105.62 422.5V464.3h.45V422.5z"/><path d="M1106.8 422.5V467.47h.45V422.5z"/><path d="M1107.98 422.5V470.9h.45V422.5z"/><path d="M1109.16 422.5V471.76h.45V422.5z"/><path d="M1110.34 422.5V472.7h.45V422.5z"/><path d="M1111.52 422.5V473.64h.45V422.5z"/><path d="M1112.7 422.5V475.01h.45V422.5z"/><path d="M1113.88 422.5V478.18h.45V422.5z"/><path d="M1115.06 422.5V481.4h.45V422.5z"/><path d="M1116.24 422.5V490.51h.45V422.5z"/><path d="M1117.42 422.5V500.51h.45V422.5z"/><path d="M1118.6 422.5V511.48h.45V422.5z"/><path d="M1119.78 422.5V526.43h.45V422.5z"/><path d="M1120.96 422.5V543.39h.45V422.5z"/><path d="M1122.14 422.5V560.59h.45V422.5z"/><path d="M1123.32 422.5V574.61h.45V422.5z"/><path d="M1124.5 422.5V591.3h.45V422.5z"/><path d="M1125.67 422.5V594.49h.45V422.5z"/><path d="M1126.85 422.5V599.56h.45V422.5z"/><path d="M1128.03 422.5V600.44h.45V422.5z"/><path d="M1129.21 422.5V601.33h.45V422.5z"/><path d="M1130.39 422.5V602.29h.45V422.5z"/><path d="M1131.57 422.5V608.44h.45V422.5z"/><path d="M1132.75 422.5V616.8h.45V422.5z"/><path d="M1133.93 422.5V623.65h.45V422.5z"/><path d="M1135.11 422.5V635.16h.45V422.5z"/><path d="M1136.29 422.5V660.4h.45V422.5z"/><path d="M1137.47 422.5V668.63h.45V422.5z"/><path d="M1138.65 422.5V675.8h.45V422.5z"/><path d="M1139.83 422.5V660.4h.45V422.5z"/><path d="M1141.01 422.5V635.61h.45V422.5z"/><path d="M1142.19 422.5V620.24h.45V422.5z"/><path d="M1143.37 422.5V609.5h.45V422.5z"/><path d="M1144.55 422.5V582.8h.45V422.5z"/><path d="M1145.73 422.5V569.36h.45V422.5z"/><path d="M1146.91 422.5V555h.45V422.5z"/><path d="M1148.09 422.5V529.49h.45V422.5z"/><path d="M1149.27 422.5V523.06h.45V422.5z"/><path d="M1150.44 422.5V524.75h.45V422.5z"/><path d="M1151.62 422.5V529.94h.45V422.5z"/><path d="M1152.8 422.5V535.14h.45V422.5z"/><path d="M1153.98 422.5V541.04h.45V422.5z"/><path d="M1155.16 422.5V549.4h.45V422.5z"/><path d="M1156.34 422.5V558.6h.45V422.5z"/><path d="M1157.52 422.5V540.55h.45V422.5z"/><path d="M1158.7 422.5V535.75h.45V422.5z"/><path d="M1159.88 422.5V536.42h.45V422.5z"/><path d="M1161.06 422.5V539.96h.45V422.5z"/><path d="M1162.24 422.5V543.5h.45V422.5z"/><path d="M1163.42 422.5V548.1h.45V422.5z"/><path d="M1164.6 422.5V548.62h.45V422.5z"/><path d="M1165.78 422.5V549.37h.45V422.5z"/><path d="M1166.96 422.5V550.16h.45V422.5z"/><path d="M1168.14 422.5V551.18h.45V422.5z"/><path d="M1169.32 422.5V552.6h.45V422.5z"/><path d="M1170.5 422.5V550.25h.45V422.5z"/><path d="M1171.68 422.5V546.4h.45V422.5z"/><path d="M1172.86 422.5V542.55h.45V422.5z"/><path d="M1174.04 422.5V538.71h.45V422.5z"/><path d="M1175.22 422.5V535.36h.45V422.5z"/><path d="M1176.39 422.5V532.21h.45V422.5z"/><path d="M1177.57 422.5V529.07h.45V422.5z"/><path d="M1178.75 422.5V525.92h.45V422.5z"/><path d="M1179.93 422.5V524.52h.45V422.5z"/><path d="M1181.11 422.5V523.31h.45V422.5z"/><path d="M1182.29 422.5V522.11h.45V422.5z"/><path d="M1183.47 422.5V521h.45V422.5z"/><path d="M1184.65 422.5V515.89h.45V422.5z"/><path d="M1185.83 422.5V511.18h.45V422.5z"/><path d="M1187.01 422.5V505.19h.45V422.5z"/><path d="M1188.19 422.5V500h.45V422.5z"/><path d="M1189.37 422.5V486.71h.45V422.5z"/><path d="M1190.55 422.5V483.74h.45V422.5z"/><path d="M1191.73 422.5V480.77h.45V422.5z"/><path d="M1192.91 422.5V472.88h.45V422.5z"/><path d="M1194.09 422.5V461.9h.45V422.5z"/><path d="M1195.27 422.5V440.44h.45V422.5z"/><path d="M1196.45 422.5V429.75h.45V422.5z"/><path d="M1197.63 422.5V425.81h.45V422.5z"/><path d="M1198.81 422.5V423.3h.45V422.5z"/><path d="M1199.99 422.5V422.86h.45V422.5z"/><path d="M1202.34 422.5V412.6h.45V422.5z"/><path d="M1203.52 422.5V410.7h.45V422.5z"/><path d="M1204.7 422.5V408.74h.45V422.5z"/><path d="M1205.88 422.5V406.21h.45V422.5z"/><path d="M1207.06 422.5V402.06h.45V422.5z"/><path d="M1208.24 422.5V395.49h.45V422.5z"/><path d="M1209.42 422.5V382.8h.45V422.5z"/><path d="M1210.6 422.5V378.37h.45V422.5z"/><path d="M1211.78 422.5V370h.45V422.5z"/><path d="M1212.96 422.5V367.04h.45V422.5z"/><path d="M1214.14 422.5V363.45h.45V422.5z"/><path d="M1215.32 422.5V358.84h.45V422.5z"/><path d="M1216.5 422.5V353.97h.45V422.5z"/><path d="M1217.68 422.5V348.02h.45V422.5z"/><path d="M1218.86 422.5V340.09h.45V422.5z"/><path d="M1220.04 422.5V325.3h.45V422.5z"/><path d="M1221.22 422.5V313.25h.45V422.5z"/><path d="M1222.4 422.5V291.2h.45V422.5z"/><path d="M1223.58 422.5V291.7h.45V422.5z"/><path d="M1224.76 422.5V292.29h.45V422.5z"/><path d="M1225.94 422.5V301.14h.45V422.5z"/><path d="M1227.11 422.5V308.05h.45V422.5z"/><path d="M1228.29 422.5V306.81h.45V422.5z"/><path d="M1229.47 422.5V303.45h.45V422.5z"/><path d="M1230.65 422.5V297.18h.45V422.5z"/><path d="M1231.83 422.5V289.1h.45V422.5z"/><path d="M1233.01 422.5V287.46h.45V422.5z"/><path d="M1234.19 422.5V284.8h.45V422.5z"/><path d="M1235.37 422.5V287.84h.45V422.5z"/><path d="M1236.55 422.5V291.2h.45V422.5z"/><path d="M1237.73 422.5V300.11h.45V422.5z"/><path d="M1238.91 422.5V306.1h.45V422.5z"/><path d="M1240.09 422.5V325.17h.45V422.5z"/><path d="M1241.27 422.5V333.8h.45V422.5z"/><path d="M1242.45 422.5V345.67h.45V422.5z"/><path d="M1243.63 422.5V351.78h.45V422.5z"/><path d="M1244.81 422.5V356.61h.45V422.5z"/><path d="M1245.99 422.5V361.4h.45V422.5z"/><path d="M1247.17 422.5V365.8h.45V422.5z"/><path d="M1248.35 422.5V375.62h.45V422.5z"/><path d="M1249.53 422.5V382.8h.45V422.5z"/><path d="M1250.71 422.5V384.72h.45V422.5z"/><path d="M1251.88 422.5V386.31h.45V422.5z"/><path d="M1253.06 422.5V387.1h.45V422.5z"/><path d="M1254.24 422.5V390.64h.45V422.5z"/><path d="M1255.42 422.5V393h.45V422.5z"/><path d="M1256.6 422.5V395.38h.45V422.5z"/><path d="M1257.78 422.5V397.76h.45V422.5z"/><path d="M1258.96 422.5V400.15h.45V422.5z"/><path d="M1260.14 422.5V402h.45V422.5z"/><path d="M1261.32 422.5V404.15h.45V422.5z"/><path d="M1262.5 422.5V405.91h.45V422.5z"/><path d="M1263.68 422.5V407.66h.45V422.5z"/><path d="M1264.86 422.5V410.22h.45V422.5z"/><path d="M1266.04 422.5V413.35h.45V422.5z"/><path d="M1267.22 422.5V416.48h.45V422.5z"/><path d="M1268.4 422.5V418.88h.45V422.5z"/><path d="M1269.58 422.5V421.15h.45V422.5z"/><path d="M1270.76 422.5V423.17h.45V422.5z"/><path d="M1271.94 422.5V425h.45V422.5z"/><path d="M1273.12 422.5V425.26h.45V422.5z"/><path d="M1274.3 422.5V425.56h.45V422.5z"/><path d="M1275.48 422.5V425.85h.45V422.5z"/><path d="M1276.65 422.5V426.14h.45V422.5z"/><path d="M1277.83 422.5V426.44h.45V422.5z"/><path d="M1279.01 422.5V426.73h.45V422.5z"/><path d="M1280.19 422.5V427.03h.45V422.5z"/><path d="M1281.37 422.5V427.32h.45V422.5z"/><path d="M1282.55 422.5V427.62h.45V422.5z"/><path d="M1283.73 422.5V427.91h.45V422.5z"/><path d="M1284.91 422.5V428.21h.45V422.5z"/><path d="M1286.09 422.5V428.5h.45V422.5z"/><path d="M1287.27 422.5V428h.45V422.5z"/><path d="M1288.45 422.5V427.51h.45V422.5z"/><path d="M1289.63 422.5V427.02h.45V422.5z"/><path d="M1290.81 422.5V426.53h.45V422.5z"/><path d="M1291.99 422.5V426.05h.45V422.5z"/><path d="M1293.17 422.5V425.56h.45V422.5z"/><path d="M1294.35 422.5V425.07h.45V422.5z"/><path d="M1295.53 422.5V424.58h.45V422.5z"/><path d="M1296.71 422.5V424.1h.45V422.5z"/><path d="M1297.89 422.5V423.55h.45V422.5z"/><path d="M1299.07 422.5V423.01h.45V422.5z"/><path d="M1303.78 422.5V420.73h.45V422.5z"/><path d="M1304.96 422.5V419h.45V422.5z"/><path d="M1306.14 422.5V419h.45V422.5z"/><path d="M1307.32 422.5V419h.45V422.5z"/><path d="M1308.5 422.5V419h.45V422.5z"/><path d="M1309.68 422.5V419h.45V422.5z"/><path d="M1310.86 422.5V419h.45V422.5z"/><path d="M1312.04 422.5V419h.45V422.5z"/><path d="M1313.22 422.5V419h.45V422.5z"/><path d="M1314.4 422.5V419h.45V422.5z"/><path d="M1315.58 422.5V419h.45V422.5z"/><path d="M1316.76 422.5V419h.45V422.5z"/><path d="M1317.94 422.5V419h.45V422.5z"/><path d="M1319.12 422.5V419h.45V422.5z"/><path d="M1320.3 422.5V419h.45V422.5z"/><path d="M1321.48 422.5V419h.45V422.5z"/><path d="M1322.66 422.5V419h.45V422.5z"/><path d="M1323.84 422.5V419h.45V422.5z"/><path d="M1325.02 422.5V421.17h.45V422.5z"/><path d="M1376.92 422.5V424.02h.45V422.5z"/><path d="M1378.09 422.5V425.35h.45V422.5z"/><path d="M1379.27 422.5V426.69h.45V422.5z"/><path d="M1380.45 422.5V428.5h.45V422.5z"/><path d="M1381.63 422.5V432.14h.45V422.5z"/><path d="M1382.81 422.5V437.79h.45V422.5z"/><path d="M1383.99 422.5V443.45h.45V422.5z"/><path d="M1385.17 422.5V449.6h.45V422.5z"/><path d="M1386.35 422.5V460.68h.45V422.5z"/><path d="M1387.53 422.5V471.45h.45V422.5z"/><path d="M1388.71 422.5V480.66h.45V422.5z"/><path d="M1389.89 422.5V489.28h.45V422.5z"/><path d="M1391.07 422.5V495.23h.45V422.5z"/><path d="M1392.25 422.5V501.3h.45V422.5z"/><path d="M1393.43 422.5V492.41h.45V422.5z"/><path d="M1394.61 422.5V484.07h.45V422.5z"/><path d="M1395.79 422.5V476.38h.45V422.5z"/><path d="M1396.97 422.5V470.6h.45V422.5z"/><path d="M1398.15 422.5V456.73h.45V422.5z"/><path d="M1399.33 422.5V446.1h.45V422.5z"/><path d="M1400.51 422.5V442.37h.45V422.5z"/><path d="M1401.69 422.5V438.8h.45V422.5z"/><path d="M1402.86 422.5V435.5h.45V422.5z"/><path d="M1404.04 422.5V435.5h.45V422.5z"/><path d="M1405.22 422.5V435.5h.45V422.5z"/><path d="M1406.4 422.5V435.5h.45V422.5z"/><path d="M1407.58 422.5V436.12h.45V422.5z"/><path d="M1408.76 422.5V437.9h.45V422.5z"/><path d="M1409.94 422.5V439.69h.45V422.5z"/><path d="M1411.12 422.5V440.8h.45V422.5z"/><path d="M1412.3 422.5V440.8h.45V422.5z"/><path d="M1413.48 422.5V440.8h.45V422.5z"/><path d="M1414.66 422.5V440.8h.45V422.5z"/><path d="M1415.84 422.5V440.8h.45V422.5z"/><path d="M1417.02 422.5V440.8h.45V422.5z"/><path d="M1418.2 422.5V440.8h.45V422.5z"/><path d="M1419.38 422.5V440.8h.45V422.5z"/><path d="M1420.56 422.5V440.8h.45V422.5z"/><path d="M1421.74 422.5V440.8h.45V422.5z"/><path d="M1422.92 422.5V440.8h.45V422.5z"/><path d="M1424.1 422.5V440.8h.45V422.5z"/><path d="M1425.28 422.5V440.8h.45V422.5z"/><path d="M1426.46 422.5V440.8h.45V422.5z"/><path d="M1427.64 422.5V440.03h.45V422.5z"/><path d="M1428.81 422.5V439.25h.45V422.5z"/><path d="M1429.99 422.5V438.48h.45V422.5z"/><path d="M1431.17 422.5V437.7h.45V422.5z"/><path d="M1432.35 422.5V437.3h.45V422.5z"/><path d="M1433.53 422.5V435.54h.45V422.5z"/><path d="M1434.71 422.5V434.36h.45V422.5z"/><path d="M1435.89 422.5V430.61h.45V422.5z"/><path d="M1437.07 422.5V425h.45V422.5z"/><path d="M1438.25 422.5V423.23h.45V422.5z"/><path d="M1439.43 422.5V422.05h.45V422.5z"/><path d="M1440.61 422.5V421h.45V422.5z"/><path d="M1441.79 422.5V420.2h.45V422.5z"/><path d="M1442.97 422.5V419.04h.45V422.5z"/><path d="M1444.15 422.5V417.89h.45V422.5z"/><path d="M1445.33 422.5V416.73h.45V422.5z"/><path d="M1446.51 422.5V415.57h.45V422.5z"/><path d="M1447.69 422.5V414.41h.45V422.5z"/><path d="M1448.87 422.5V413.26h.45V422.5z"/><path d="M1450.05 422.5V412.1h.45V422.5z"/><path d="M1451.23 422.5V410.5h.45V422.5z"/><path d="M1452.41 422.5V410.02h.45V422.5z"/><path d="M1453.58 422.5V409.25h.45V422.5z"/><path d="M1454.76 422.5V408.47h.45V422.5z"/><path d="M1455.94 422.5V407.7h.45V422.5z"/><path d="M1457.12 422.5V406.92h.45V422.5z"/><path d="M1458.3 422.5V406.24h.45V422.5z"/><path d="M1459.48 422.5V405.94h.45V422.5z"/><path d="M1460.66 422.5V405.63h.45V422.5z"/><path d="M1461.84 422.5V405.33h.45V422.5z"/><path d="M1463.02 422.5V405.02h.45V422.5z"/><path d="M1464.2 422.5V404.71h.45V422.5z"/><path d="M1465.38 422.5V404.41h.45V422.5z"/><path d="M1466.56 422.5V404.1h.45V422.5z"/><path d="M1467.74 422.5V404.5h.45V422.5z"/><path d="M1468.92 422.5V404.91h.45V422.5z"/><path d="M1470.1 422.5V405.31h.45V422.5z"/><path d="M1471.28 422.5V405.72h.45V422.5z"/><path d="M1472.46 422.5V406.12h.45V422.5z"/><path d="M1473.64 422.5V406.3h.45V422.5z"/><path d="M1474.82 422.5V406.3h.45V422.5z"/><path d="M1476 422.5V406.3h.45V422.5z"/><path d="M1477.18 422.5V406.3h.45V422.5z"/><path d="M1478.36 422.5V406.3h.45V422.5z"/><path d="M1479.53 422.5V406.3h.45V422.5z"/><path d="M1480.71 422.5V406.3h.45V422.5z"/><path d="M1481.89 422.5V406.3h.45V422.5z"/><path d="M1483.07 422.5V406.3h.45V422.5z"/><path d="M1484.25 422.5V406.3h.45V422.5z"/><path d="M1485.43 422.5V406.3h.45V422.5z"/><path d="M1486.61 422.5V406.58h.45V422.5z"/><path d="M1487.79 422.5V406.97h.45V422.5z"/><path d="M1488.97 422.5V407.37h.45V422.5z"/><path d="M1490.15 422.5V407.76h.45V422.5z"/><path d="M1491.33 422.5V408.15h.45V422.5z"/><path d="M1492.51 422.5V408.4h.45V422.5z"/><path d="M1493.69 422.5V409.19h.45V422.5z"/><path d="M1494.87 422.5V409.76h.45V422.5z"/><path d="M1496.05 422.5V410.34h.45V422.5z"/><path d="M1497.23 422.5V410.92h.45V422.5z"/><path d="M1498.41 422.5V411.49h.45V422.5z"/><path d="M1499.59 422.5V412.07h.45V422.5z"/><path d="M1500.77 422.5V412.6h.45V422.5z"/><path d="M1501.95 422.5V413.12h.45V422.5z"/><path d="M1503.13 422.5V413.59h.45V422.5z"/><path d="M1504.3 422.5V414.07h.45V422.5z"/><path d="M1505.48 422.5V414.55h.45V422.5z"/><path d="M1506.66 422.5V415.03h.45V422.5z"/><path d="M1507.84 422.5V415.51h.45V422.5z"/><path d="M1509.02 422.5V415.99h.45V422.5z"/><path d="M1510.2 422.5V416.46h.45V422.5z"/><path d="M1511.38 422.5V416.58h.45V422.5z"/><path d="M1512.56 422.5V413.07h.45V422.5z"/><path d="M1513.74 422.5V409.56h.45V422.5z"/><path d="M1514.92 422.5V406.05h.45V422.5z"/><path d="M1516.1 422.5V402.36h.45V422.5z"/><path d="M1517.28 422.5V398.45h.45V422.5z"/><path d="M1518.46 422.5V393.5h.45V422.5z"/><path d="M1519.64 422.5V390.04h.45V422.5z"/><path d="M1520.82 422.5V385.33h.45V422.5z"/><path d="M1522 422.5V380.65h.45V422.5z"/><path d="M1523.18 422.5V378.3h.45V422.5z"/><path d="M1524.36 422.5V375.94h.45V422.5z"/><path d="M1525.54 422.5V371.37h.45V422.5z"/><path d="M1526.72 422.5V357.3h.45V422.5z"/><path d="M1527.9 422.5V353.19h.45V422.5z"/><path d="M1529.08 422.5V343.4h.45V422.5z"/><path d="M1530.25 422.5V346.4h.45V422.5z"/><path d="M1531.43 422.5V350.42h.45V422.5z"/><path d="M1532.61 422.5V358.27h.45V422.5z"/><path d="M1533.79 422.5V365.8h.45V422.5z"/><path d="M1534.97 422.5V366.65h.45V422.5z"/><path d="M1536.15 422.5V367.43h.45V422.5z"/><path d="M1537.33 422.5V366.05h.45V422.5z"/><path d="M1538.51 422.5V359.4h.45V422.5z"/><path d="M1539.69 422.5V358.68h.45V422.5z"/><path d="M1540.87 422.5V357.5h.45V422.5z"/><path d="M1542.05 422.5V356.2h.45V422.5z"/><path d="M1543.23 422.5V365.29h.45V422.5z"/><path d="M1544.41 422.5V374.3h.45V422.5z"/><path d="M1545.59 422.5V376.87h.45V422.5z"/><path d="M1546.77 422.5V378.6h.45V422.5z"/><path d="M1547.95 422.5V379.57h.45V422.5z"/><path d="M1549.13 422.5V380.34h.45V422.5z"/><path d="M1550.31 422.5V382.79h.45V422.5z"/><path d="M1551.49 422.5V386.7h.45V422.5z"/><path d="M1552.67 422.5V390.61h.45V422.5z"/><path d="M1553.85 422.5V393.99h.45V422.5z"/><path d="M1555.02 422.5V397.26h.45V422.5z"/><path d="M1556.2 422.5V399.77h.45V422.5z"/><path d="M1557.38 422.5V399.08h.45V422.5z"/><path d="M1558.56 422.5V398.4h.45V422.5z"/><path d="M1559.74 422.5V395.6h.45V422.5z"/><path d="M1560.92 422.5V395.6h.45V422.5z"/><path d="M1562.1 422.5V395.6h.45V422.5z"/><path d="M1563.28 422.5V397.45h.45V422.5z"/><path d="M1564.46 422.5V400.35h.45V422.5z"/><path d="M1565.64 422.5V402h.45V422.5z"/><path d="M1566.82 422.5V402h.45V422.5z"/><path d="M1568 422.5V402h.45V422.5z"/><path d="M1569.18 422.5V401.41h.45V422.5z"/><path d="M1570.36 422.5V400.63h.45V422.5z"/><path d="M1571.54 422.5V399.88h.45V422.5z"/><path d="M1572.72 422.5V399.47h.45V422.5z"/><path d="M1573.9 422.5V399.07h.45V422.5z"/><path d="M1575.08 422.5V398.8h.45V422.5z"/><path d="M1576.26 422.5V400.38h.45V422.5z"/><path d="M1577.44 422.5V401.56h.45V422.5z"/><path d="M1578.62 422.5V402.99h.45V422.5z"/><path d="M1579.79 422.5V404.58h.45V422.5z"/><path d="M1580.97 422.5V406.16h.45V422.5z"/><path d="M1582.15 422.5V410.67h.45V422.5z"/><path d="M1583.33 422.5V414.8h.45V422.5z"/><path d="M1584.51 422.5V416.56h.45V422.5z"/><path d="M1585.69 422.5V418.1h.45V422.5z"/><path d="M1586.87 422.5V419h.45V422.5z"/><path d="M1588.05 422.5V420.15h.45V422.5z"/><path d="M1589.23 422.5V420.96h.45V422.5z"/><path d="M1590.41 422.5V420.77h.45V422.5z"/><path d="M1591.59 422.5V420.17h.45V422.5z"/><path d="M1592.77 422.5V419.57h.45V422.5z"/><path d="M1593.95 422.5V419h.45V422.5z"/><path d="M1595.13 422.5V419h.45V422.5z"/><path d="M1596.31 422.5V419h.45V422.5z"/><path d="M1597.49 422.5V419h.45V422.5z"/><path d="M1598.67 422.5V419h.45V422.5z"/><path d="M1599.85 422.5V419h.45V422.5z"/><path d="M1601.03 422.5V420.25h.45V422.5z"/><path d="M1608.1 422.5V424.09h.45V422.5z"/><path d="M1609.28 422.5V426.11h.45V422.5z"/><path d="M1610.46 422.5V428.5h.45V422.5z"/><path d="M1611.64 422.5V429.49h.45V422.5z"/><path d="M1612.82 422.5V430.69h.45V422.5z"/><path d="M1614 422.5V431.89h.45V422.5z"/><path d="M1615.18 422.5V433.09h.45V422.5z"/><path d="M1616.36 422.5V434.12h.45V422.5z"/><path d="M1617.54 422.5V434.9h.45V422.5z"/><path d="M1618.72 422.5V435.68h.45V422.5z"/><path d="M1619.9 422.5V436.46h.45V422.5z"/><path d="M1621.08 422.5V437.3h.45V422.5z"/><path d="M1622.26 422.5V438.38h.45V422.5z"/><path d="M1623.44 422.5V439.56h.45V422.5z"/><path d="M1624.62 422.5V440.8h.45V422.5z"/><path d="M1625.8 422.5V441.92h.45V422.5z"/><path d="M1626.98 422.5V443.1h.45V422.5z"/><path d="M1628.16 422.5V444.3h.45V422.5z"/><path d="M1629.34 422.5V446.06h.45V422.5z"/><path d="M1630.51 422.5V447.84h.45V422.5z"/><path d="M1631.69 422.5V449.6h.45V422.5z"/><path d="M1632.87 422.5V447.83h.45V422.5z"/><path d="M1634.05 422.5V446.1h.45V422.5z"/><path d="M1635.23 422.5V444.36h.45V422.5z"/><path d="M1636.41 422.5V442.61h.45V422.5z"/><path d="M1637.59 422.5V440.86h.45V422.5z"/><path d="M1638.77 422.5V439.11h.45V422.5z"/><path d="M1639.95 422.5V437.62h.45V422.5z"/><path d="M1641.13 422.5V436.14h.45V422.5z"/><path d="M1642.31 422.5V434.71h.45V422.5z"/><path d="M1643.49 422.5V434.98h.45V422.5z"/><path d="M1644.67 422.5V435.25h.45V422.5z"/><path d="M1645.85 422.5V435.54h.45V422.5z"/><path d="M1647.03 422.5V436.14h.45V422.5z"/><path d="M1648.21 422.5V436.75h.45V422.5z"/><path d="M1649.39 422.5V437.52h.45V422.5z"/><path d="M1650.57 422.5V439.88h.45V422.5z"/><path d="M1651.75 422.5V442.24h.45V422.5z"/><path d="M1652.93 422.5V444.81h.45V422.5z"/><path d="M1654.11 422.5V448.8h.45V422.5z"/><path d="M1655.29 422.5V453.1h.45V422.5z"/><path d="M1656.46 422.5V450.98h.45V422.5z"/><path d="M1657.64 422.5V449.6h.45V422.5z"/><path d="M1658.82 422.5V449.6h.45V422.5z"/><path d="M1660 422.5V451.16h.45V422.5z"/><path d="M1661.18 422.5V461.9h.45V422.5z"/><path d="M1662.36 422.5V472.46h.45V422.5z"/><path d="M1663.54 422.5V486h.45V422.5z"/><path d="M1664.72 422.5V493.5h.45V422.5z"/><path d="M1665.9 422.5V495.98h.45V422.5z"/><path d="M1667.08 422.5V499.52h.45V422.5z"/><path d="M1668.26 422.5V501.3h.45V422.5z"/><path d="M1669.44 422.5V488.46h.45V422.5z"/><path d="M1670.62 422.5V476.36h.45V422.5z"/><path d="M1671.8 422.5V464.54h.45V422.5z"/><path d="M1672.98 422.5V453.1h.45V422.5z"/><path d="M1674.16 422.5V440.86h.45V422.5z"/><path d="M1675.34 422.5V431.64h.45V422.5z"/><path d="M1676.52 422.5V425.02h.45V422.5z"/><path d="M1677.7 422.5V425.5h.45V422.5z"/><path d="M1678.88 422.5V425.98h.45V422.5z"/><path d="M1680.06 422.5V426.46h.45V422.5z"/><path d="M1681.23 422.5V428.25h.45V422.5z"/><path d="M1682.41 422.5V433.02h.45V422.5z"/><path d="M1683.59 422.5V437.53h.45V422.5z"/><path d="M1684.77 422.5V440.8h.45V422.5z"/><path d="M1685.95 422.5V437.29h.45V422.5z"/><path d="M1687.13 422.5V432h.45V422.5z"/><path d="M1688.31 422.5V428.4h.45V422.5z"/><path d="M1689.49 422.5V425.22h.45V422.5z"/><path d="M1690.67 422.5V423.75h.45V422.5z"/><path d="M1703.65 422.5V423.15h.45V422.5z"/><path d="M1704.83 422.5V424h.45V422.5z"/><path d="M1706.01 422.5V424h.45V422.5z"/><path d="M1707.18 422.5V424h.45V422.5z"/><path d="M1708.36 422.5V424h.45V422.5z"/><path d="M1709.54 422.5V424h.45V422.5z"/><path d="M1710.72 422.5V424h.45V422.5z"/><path d="M1711.9 422.5V424h.45V422.5z"/><path d="M1713.08 422.5V424h.45V422.5z"/><path d="M1714.26 422.5V424h.45V422.5z"/><path d="M1715.44 422.5V424h.45V422.5z"/><path d="M1716.62 422.5V424h.45V422.5z"/><path d="M1717.8 422.5V424h.45V422.5z"/><path d="M1718.98 422.5V424h.45V422.5z"/><path d="M1720.16 422.5V424h.45V422.5z"/><path d="M1721.34 422.5V424h.45V422.5z"/><path d="M1722.52 422.5V424h.45V422.5z"/><path d="M1723.7 422.5V424h.45V422.5z"/><path d="M1724.88 422.5V424h.45V422.5z"/><path d="M1726.06 422.5V424h.45V422.5z"/><path d="M1727.24 422.5V424h.45V422.5z"/><path d="M1729.6 422.5V420.02h.45V422.5z"/><path d="M1730.78 422.5V416.44h.45V422.5z"/><path d="M1731.95 422.5V411.6h.45V422.5z"/><path d="M1733.13 422.5V411.6h.45V422.5z"/><path d="M1734.31 422.5V411.6h.45V422.5z"/><path d="M1735.49 422.5V411.6h.45V422.5z"/><path d="M1736.67 422.5V411.6h.45V422.5z"/><path d="M1737.85 422.5V411.6h.45V422.5z"/><path d="M1739.03 422.5V411.6h.45V422.5z"/><path d="M1740.21 422.5V411.6h.45V422.5z"/><path d="M1741.39 422.5V411.6h.45V422.5z"/><path d="M1742.57 422.5V411.6h.45V422.5z"/><path d="M1743.75 422.5V408.77h.45V422.5z"/><path d="M1744.93 422.5V404.45h.45V422.5z"/><path d="M1746.11 422.5V399.9h.45V422.5z"/><path d="M1747.29 422.5V388.08h.45V422.5z"/><path d="M1748.47 422.5V386.59h.45V422.5z"/><path d="M1749.65 422.5V385.11h.45V422.5z"/><path d="M1750.83 422.5V383.62h.45V422.5z"/><path d="M1752.01 422.5V382.8h.45V422.5z"/><path d="M1753.19 422.5V383.98h.45V422.5z"/><path d="M1754.37 422.5V384.79h.45V422.5z"/><path d="M1755.55 422.5V383.83h.45V422.5z"/><path d="M1756.72 422.5V382.25h.45V422.5z"/><path d="M1757.9 422.5V380.47h.45V422.5z"/><path d="M1759.08 422.5V371.36h.45V422.5z"/><path d="M1760.26 422.5V362.16h.45V422.5z"/><path d="M1761.44 422.5V352.56h.45V422.5z"/><path d="M1762.62 422.5V345.2h.45V422.5z"/><path d="M1763.8 422.5V341.3h.45V422.5z"/><path d="M1764.98 422.5V346.76h.45V422.5z"/><path d="M1766.16 422.5V355.1h.45V422.5z"/><path d="M1767.34 422.5V364.71h.45V422.5z"/><path d="M1768.52 422.5V368.44h.45V422.5z"/><path d="M1769.7 422.5V370.56h.45V422.5z"/><path d="M1770.88 422.5V365.41h.45V422.5z"/><path d="M1772.06 422.5V360.93h.45V422.5z"/><path d="M1773.24 422.5V358.57h.45V422.5z"/><path d="M1774.42 422.5V357.3h.45V422.5z"/><path d="M1775.6 422.5V365.99h.45V422.5z"/><path d="M1776.78 422.5V371.8h.45V422.5z"/><path d="M1777.96 422.5V377.54h.45V422.5z"/><path d="M1779.14 422.5V379.86h.45V422.5z"/><path d="M1780.32 422.5V381.41h.45V422.5z"/><path d="M1781.5 422.5V382.56h.45V422.5z"/><path d="M1782.67 422.5V380.2h.45V422.5z"/><path d="M1783.85 422.5V377.84h.45V422.5z"/><path d="M1785.03 422.5V376.1h.45V422.5z"/><path d="M1786.21 422.5V375.32h.45V422.5z"/><path d="M1787.39 422.5V374.3h.45V422.5z"/><path d="M1788.57 422.5V375.52h.45V422.5z"/><path d="M1789.75 422.5V377.31h.45V422.5z"/><path d="M1790.93 422.5V379.11h.45V422.5z"/><path d="M1792.11 422.5V380.7h.45V422.5z"/><path d="M1793.29 422.5V382.47h.45V422.5z"/><path d="M1794.47 422.5V384.05h.45V422.5z"/><path d="M1795.65 422.5V385h.45V422.5z"/><path d="M1796.83 422.5V386.09h.45V422.5z"/><path d="M1798.01 422.5V386.86h.45V422.5z"/><path d="M1799.19 422.5V387.63h.45V422.5z"/><path d="M1800.37 422.5V388.41h.45V422.5z"/><path d="M1801.55 422.5V389.18h.45V422.5z"/><path d="M1802.73 422.5V389.96h.45V422.5z"/><path d="M1803.91 422.5V390.73h.45V422.5z"/><path d="M1805.09 422.5V391.3h.45V422.5z"/><path d="M1806.27 422.5V394.35h.45V422.5z"/><path d="M1807.44 422.5V395.6h.45V422.5z"/><path d="M1808.62 422.5V411.59h.45V422.5z"/><path d="M1809.8 422.5V414.23h.45V422.5z"/><path d="M1810.98 422.5V413.42h.45V422.5z"/><path d="M1812.16 422.5V412.6h.45V422.5z"/><path d="M1813.34 422.5V416.58h.45V422.5z"/><path d="M1814.52 422.5V419.95h.45V422.5z"/><path d="M1815.7 422.5V418.77h.45V422.5z"/><path d="M1816.88 422.5V417.59h.45V422.5z"/><path d="M1818.06 422.5V415.44h.45V422.5z"/><path d="M1819.24 422.5V411.9h.45V422.5z"/><path d="M1820.42 422.5V407.3h.45V422.5z"/><path d="M1821.6 422.5V408.67h.45V422.5z"/><path d="M1822.78 422.5V410.62h.45V422.5z"/><path d="M1823.96 422.5V412.57h.45V422.5z"/><path d="M1825.14 422.5V416.2h.45V422.5z"/><path d="M1826.32 422.5V419.85h.45V422.5z"/><path d="M1831.04 422.5V427.61h.45V422.5z"/><path d="M1832.22 422.5V435.5h.45V422.5z"/><path d="M1833.39 422.5V437.47h.45V422.5z"/><path d="M1834.57 422.5V440.69h.45V422.5z"/><path d="M1835.75 422.5V442.6h.45V422.5z"/><path d="M1836.93 422.5V440.94h.45V422.5z"/><path d="M1838.11 422.5V439.76h.45V422.5z"/><path d="M1839.29 422.5V439.44h.45V422.5z"/><path d="M1840.47 422.5V440.21h.45V422.5z"/><path d="M1841.65 422.5V441.7h.45V422.5z"/><path d="M1842.83 422.5V445.55h.45V422.5z"/><path d="M1844.01 422.5V449.6h.45V422.5z"/><path d="M1845.19 422.5V453.37h.45V422.5z"/><path d="M1846.37 422.5V458.4h.45V422.5z"/><path d="M1847.55 422.5V462.5h.45V422.5z"/><path d="M1848.73 422.5V470.6h.45V422.5z"/><path d="M1849.91 422.5V472.46h.45V422.5z"/><path d="M1851.09 422.5V475.9h.45V422.5z"/><path d="M1852.27 422.5V469.73h.45V422.5z"/><path d="M1853.45 422.5V464.49h.45V422.5z"/><path d="M1854.63 422.5V459.9h.45V422.5z"/><path d="M1855.81 422.5V456.6h.45V422.5z"/><path d="M1856.99 422.5V452.53h.45V422.5z"/><path d="M1858.16 422.5V449.6h.45V422.5z"/><path d="M1859.34 422.5V448.33h.45V422.5z"/><path d="M1860.52 422.5V447.15h.45V422.5z"/><path d="M1861.7 422.5V446.16h.45V422.5z"/><path d="M1862.88 422.5V446.74h.45V422.5z"/><path d="M1864.06 422.5V447.31h.45V422.5z"/><path d="M1865.24 422.5V448.05h.45V422.5z"/><path d="M1866.42 422.5V449.84h.45V422.5z"/><path d="M1867.6 422.5V451.63h.45V422.5z"/><path d="M1868.78 422.5V453.9h.45V422.5z"/><path d="M1869.96 422.5V458.49h.45V422.5z"/><path d="M1871.14 422.5V463.6h.45V422.5z"/><path d="M1872.32 422.5V468.54h.45V422.5z"/><path d="M1873.5 422.5V475.9h.45V422.5z"/><path d="M1874.68 422.5V477.54h.45V422.5z"/><path d="M1875.86 422.5V479.94h.45V422.5z"/><path d="M1877.04 422.5V483.39h.45V422.5z"/><path d="M1878.22 422.5V488.2h.45V422.5z"/><path d="M1879.4 422.5V487.42h.45V422.5z"/><path d="M1880.58 422.5V486.61h.45V422.5z"/><path d="M1881.76 422.5V489.99h.45V422.5z"/><path d="M1882.94 422.5V497h.45V422.5z"/><path d="M1884.11 422.5V498.87h.45V422.5z"/><path d="M1885.29 422.5V502.32h.45V422.5z"/><path d="M1886.47 422.5V504.9h.45V422.5z"/><path d="M1887.65 422.5V503.37h.45V422.5z"/><path d="M1888.83 422.5V502.2h.45V422.5z"/><path d="M1890.01 422.5V497.2h.45V422.5z"/><path d="M1891.19 422.5V492.44h.45V422.5z"/><path d="M1892.37 422.5V483.95h.45V422.5z"/><path d="M1893.55 422.5V477.7h.45V422.5z"/><path d="M1894.73 422.5V471.2h.45V422.5z"/><path d="M1895.91 422.5V464.56h.45V422.5z"/><path d="M1897.09 422.5V460.1h.45V422.5z"/><path d="M1898.27 422.5V443.01h.45V422.5z"/><path d="M1899.45 422.5V434.79h.45V422.5z"/><path d="M1900.63 422.5V430.3h.45V422.5z"/><path d="M1901.81 422.5V427.03h.45V422.5z"/><path d="M1902.99 422.5V424.68h.45V422.5z"/><path d="M1904.17 422.5V423.3h.45V422.5z"/><path d="M1905.35 422.5V423.3h.45V422.5z"/><path d="M1906.53 422.5V423.3h.45V422.5z"/><path d="M1907.71 422.5V423.3h.45V422.5z"/><path d="M1908.88 422.5V423.3h.45V422.5z"/><path d="M1910.06 422.5V423.85h.45V422.5z"/><path d="M1911.24 422.5V425.23h.45V422.5z"/><path d="M1912.42 422.5V425.72h.45V422.5z"/><path d="M1913.6 422.5V426.2h.45V422.5z"/><path d="M1914.78 422.5V426.8h.45V422.5z"/><path d="M1915.96 422.5V427.99h.45V422.5z"/><path d="M1917.14 422.5V430.3h.45V422.5z"/><path d="M1918.32 422.5V430.3h.45V422.5z"/><path d="M1919.5 422.5V430.75h.45V422.5z"/><path d="M1920.68 422.5V434.94h.45V422.5z"/><path d="M1921.86 422.5V439.9h.45V422.5z"/><path d="M1923.04 422.5V440.8h.45V422.5z"/><path d="M1924.22 422.5V439.56h.45V422.5z"/><path d="M1925.4 422.5V435.56h.45V422.5z"/><path d="M1926.58 422.5V430.3h.45V422.5z"/><path d="M1927.76 422.5V430.3h.45V422.5z"/><path d="M1928.94 422.5V423.84h.45V422.5z"/><path d="M1930.12 422.5V423.3h.45V422.5z"/><path d="M1931.3 422.5V423.22h.45V422.5z"/><path d="M1932.48 422.5V423.16h.45V422.5z"/><path d="M1933.65 422.5V423.09h.45V422.5z"/><path d="M1934.83 422.5V423.02h.45V422.5z"/><path d="M1936.01 422.5V422.95h.45V422.5z"/><path d="M1937.19 422.5V422.88h.45V422.5z"/><path d="M1938.37 422.5V422.81h.45V422.5z"/><path d="M1944.27 422.5V424.36h.45V422.5z"/><path d="M1945.45 422.5V430h.45V422.5z"/><path d="M1946.63 422.5V430h.45V422.5z"/><path d="M1947.81 422.5V430h.45V422.5z"/><path d="M1948.99 422.5V430h.45V422.5z"/><path d="M1950.17 422.5V413.67h.45V422.5z"/><path d="M1951.35 422.5V412.24h.45V422.5z"/><path d="M1952.53 422.5V410.81h.45V422.5z"/><path d="M1953.71 422.5V408.7h.45V422.5z"/><path d="M1954.89 422.5V407.05h.45V422.5z"/><path d="M1956.07 422.5V403.88h.45V422.5z"/><path d="M1957.25 422.5V401.7h.45V422.5z"/><path d="M1958.43 422.5V402.33h.45V422.5z"/><path d="M1959.6 422.5V402.82h.45V422.5z"/><path d="M1960.78 422.5V403.3h.45V422.5z"/><path d="M1961.96 422.5V397.14h.45V422.5z"/><path d="M1963.14 422.5V386.49h.45V422.5z"/><path d="M1964.32 422.5V373.8h.45V422.5z"/><path d="M1965.5 422.5V371.37h.45V422.5z"/><path d="M1966.68 422.5V367.42h.45V422.5z"/><path d="M1967.86 422.5V364.11h.45V422.5z"/><path d="M1969.04 422.5V361.7h.45V422.5z"/><path d="M1970.22 422.5V359.8h.45V422.5z"/><path d="M1971.4 422.5V364.63h.45V422.5z"/><path d="M1972.58 422.5V365.9h.45V422.5z"/><path d="M1973.76 422.5V365.9h.45V422.5z"/><path d="M1974.94 422.5V360.99h.45V422.5z"/><path d="M1976.12 422.5V350.88h.45V422.5z"/><path d="M1977.3 422.5V344.1h.45V422.5z"/><path d="M1978.48 422.5V349.11h.45V422.5z"/><path d="M1979.66 422.5V354.6h.45V422.5z"/><path d="M1980.84 422.5V355.79h.45V422.5z"/><path d="M1982.02 422.5V358.03h.45V422.5z"/><path d="M1983.2 422.5V361.2h.45V422.5z"/><path d="M1984.37 422.5V362.9h.45V422.5z"/><path d="M1985.55 422.5V361.6h.45V422.5z"/><path d="M1986.73 422.5V364.35h.45V422.5z"/><path d="M1987.91 422.5V367.4h.45V422.5z"/><path d="M1989.09 422.5V372.44h.45V422.5z"/><path d="M1990.27 422.5V378.74h.45V422.5z"/><path d="M1991.45 422.5V382.5h.45V422.5z"/><path d="M1992.63 422.5V383.07h.45V422.5z"/><path d="M1993.81 422.5V383.4h.45V422.5z"/><path d="M1994.99 422.5V383.4h.45V422.5z"/><path d="M1996.17 422.5V383.4h.45V422.5z"/><path d="M1997.35 422.5V383.4h.45V422.5z"/><path d="M1998.53 422.5V383.4h.45V422.5z"/><path d="M1999.71 422.5V383.85h.45V422.5z"/><path d="M2000.89 422.5V384.43h.45V422.5z"/><path d="M2002.07 422.5V385h.45V422.5z"/><path d="M2003.25 422.5V386.75h.45V422.5z"/><path d="M2004.43 422.5V388.74h.45V422.5z"/><path d="M2005.61 422.5V390.91h.45V422.5z"/><path d="M2006.79 422.5V393.18h.45V422.5z"/><path d="M2007.97 422.5V394.7h.45V422.5z"/><path d="M2009.15 422.5V397.9h.45V422.5z"/><path d="M2010.32 422.5V400h.45V422.5z"/><path d="M2011.5 422.5V402.66h.45V422.5z"/><path d="M2012.68 422.5V405.02h.45V422.5z"/><path d="M2013.86 422.5V408.13h.45V422.5z"/><path d="M2015.04 422.5V411.31h.45V422.5z"/><path d="M2016.22 422.5V413.89h.45V422.5z"/><path d="M2017.4 422.5V416.25h.45V422.5z"/><path d="M2018.58 422.5V419.12h.45V422.5z"/><path d="M2020.94 422.5V421.63h.45V422.5z"/><path d="M2022.12 422.5V420.74h.45V422.5z"/><path d="M2023.3 422.5V419.86h.45V422.5z"/><path d="M2024.48 422.5V418.18h.45V422.5z"/><path d="M2025.66 422.5V414.24h.45V422.5z"/><path d="M2026.84 422.5V410.42h.45V422.5z"/><path d="M2028.02 422.5V408.83h.45V422.5z"/><path d="M2029.2 422.5V407h.45V422.5z"/><path d="M2030.38 422.5V409h.45V422.5z"/><path d="M2031.56 422.5V411.36h.45V422.5z"/><path d="M2032.74 422.5V414.75h.45V422.5z"/><path d="M2033.92 422.5V418.69h.45V422.5z"/><path d="M2035.09 422.5V420.9h.45V422.5z"/><path d="M2036.27 422.5V423.14h.45V422.5z"/><path d="M2037.45 422.5V426.95h.45V422.5z"/><path d="M2038.63 422.5V430.76h.45V422.5z"/><path d="M2039.81 422.5V434.87h.45V422.5z"/><path d="M2040.99 422.5V440.2h.45V422.5z"/><path d="M2042.17 422.5V445.52h.45V422.5z"/><path d="M2043.35 422.5V449.78h.45V422.5z"/><path d="M2044.53 422.5V450.56h.45V422.5z"/><path d="M2045.71 422.5V451.34h.45V422.5z"/><path d="M2046.89 422.5V452.12h.45V422.5z"/><path d="M2048.07 422.5V453.1h.45V422.5z"/><path d="M2049.25 422.5V452.8h.45V422.5z"/><path d="M2050.43 422.5V452.4h.45V422.5z"/><path d="M2051.61 422.5V452h.45V422.5z"/><path d="M2052.79 422.5V451.6h.45V422.5z"/><path d="M2053.97 422.5V451.3h.45V422.5z"/><path d="M2055.15 422.5V450.31h.45V422.5z"/><path d="M2056.33 422.5V449.52h.45V422.5z"/><path d="M2057.51 422.5V448.72h.45V422.5z"/><path d="M2058.69 422.5V447.93h.45V422.5z"/><path d="M2059.86 422.5V446.33h.45V422.5z"/><path d="M2061.04 422.5V444.58h.45V422.5z"/><path d="M2062.22 422.5V442.82h.45V422.5z"/><path d="M2063.4 422.5V441.27h.45V422.5z"/><path d="M2064.58 422.5V439.74h.45V422.5z"/><path d="M2065.76 422.5V441.93h.45V422.5z"/><path d="M2066.94 422.5V446.55h.45V422.5z"/><path d="M2068.12 422.5V449.73h.45V422.5z"/><path d="M2069.3 422.5V453.1h.45V422.5z"/><path d="M2070.48 422.5V455.27h.45V422.5z"/><path d="M2071.66 422.5V458.4h.45V422.5z"/><path d="M2072.84 422.5V460.74h.45V422.5z"/><path d="M2074.02 422.5V464.79h.45V422.5z"/><path d="M2075.2 422.5V472.4h.45V422.5z"/><path d="M2076.38 422.5V486.4h.45V422.5z"/><path d="M2077.56 422.5V497.61h.45V422.5z"/><path d="M2078.74 422.5V504.92h.45V422.5z"/><path d="M2079.92 422.5V506.84h.45V422.5z"/><path d="M2081.1 422.5V508.4h.45V422.5z"/><path d="M2082.28 422.5V504.77h.45V422.5z"/><path d="M2083.46 422.5V499.69h.45V422.5z"/><path d="M2084.64 422.5V495.2h.45V422.5z"/><path d="M2085.81 422.5V492.27h.45V422.5z"/><path d="M2086.99 422.5V489.9h.45V422.5z"/><path d="M2088.17 422.5V486.23h.45V422.5z"/><path d="M2089.35 422.5V482.02h.45V422.5z"/><path d="M2090.53 422.5V477.6h.45V422.5z"/><path d="M2091.71 422.5V475.13h.45V422.5z"/><path d="M2092.89 422.5V472.77h.45V422.5z"/><path d="M2094.07 422.5V470.44h.45V422.5z"/><path d="M2095.25 422.5V468.13h.45V422.5z"/><path d="M2096.43 422.5V465.34h.45V422.5z"/><path d="M2097.61 422.5V462.16h.45V422.5z"/><path d="M2098.79 422.5V460.1h.45V422.5z"/><path d="M2099.97 422.5V456.85h.45V422.5z"/><path d="M2101.15 422.5V454.8h.45V422.5z"/><path d="M2102.33 422.5V453.45h.45V422.5z"/><path d="M2103.51 422.5V452.27h.45V422.5z"/><path d="M2104.69 422.5V451.3h.45V422.5z"/><path d="M2105.87 422.5V450.42h.45V422.5z"/><path d="M2107.05 422.5V449.68h.45V422.5z"/><path d="M2108.23 422.5V447.46h.45V422.5z"/><path d="M2109.41 422.5V445.05h.45V422.5z"/><path d="M2110.58 422.5V442.26h.45V422.5z"/><path d="M2111.76 422.5V439.3h.45V422.5z"/><path d="M2112.94 422.5V436.33h.45V422.5z"/><path d="M2114.12 422.5V434.36h.45V422.5z"/><path d="M2115.3 422.5V432.77h.45V422.5z"/><path d="M2116.48 422.5V430.82h.45V422.5z"/><path d="M2117.66 422.5V428.53h.45V422.5z"/><path d="M2118.84 422.5V424.38h.45V422.5z"/><path d="M2121.2 422.5V421.73h.45V422.5z"/><path d="M2122.38 422.5V421.23h.45V422.5z"/><path d="M2123.56 422.5V420.73h.45V422.5z"/><path d="M2124.74 422.5V420.23h.45V422.5z"/><path d="M2125.92 422.5V419.73h.45V422.5z"/><path d="M2127.1 422.5V419.2h.45V422.5z"/><path d="M2128.28 422.5V417.84h.45V422.5z"/><path d="M2129.46 422.5V416.39h.45V422.5z"/><path d="M2130.64 422.5V414.93h.45V422.5z"/><path d="M2131.82 422.5V413.9h.45V422.5z"/><path d="M2133 422.5V415.42h.45V422.5z"/><path d="M2134.18 422.5V416.6h.45V422.5z"/><path d="M2135.36 422.5V417.78h.45V422.5z"/><path d="M2136.53 422.5V418.96h.45V422.5z"/><path d="M2137.71 422.5V419.2h.45V422.5z"/><path d="M2138.89 422.5V419.2h.45V422.5z"/><path d="M2140.07 422.5V419.2h.45V422.5z"/><path d="M2141.25 422.5V419.2h.45V422.5z"/><path d="M2142.43 422.5V417.83h.45V422.5z"/><path d="M2143.61 422.5V414.29h.45V422.5z"/><path d="M2144.79 422.5V410.75h.45V422.5z"/><path d="M2145.97 422.5V407.71h.45V422.5z"/><path d="M2147.15 422.5V405.35h.45V422.5z"/><path d="M2148.33 422.5V402.99h.45V422.5z"/><path d="M2149.51 422.5V398.84h.45V422.5z"/><path d="M2150.69 422.5V392.54h.45V422.5z"/><path d="M2151.87 422.5V385.38h.45V422.5z"/><path d="M2153.05 422.5V373.8h.45V422.5z"/><path d="M2154.23 422.5V365.01h.45V422.5z"/><path d="M2155.41 422.5V357.2h.45V422.5z"/><path d="M2156.59 422.5V365.74h.45V422.5z"/><path d="M2157.77 422.5V371.59h.45V422.5z"/><path d="M2158.95 422.5V374.26h.45V422.5z"/><path d="M2160.13 422.5V370.31h.45V422.5z"/><path d="M2161.3 422.5V366.07h.45V422.5z"/><path d="M2162.48 422.5V357.2h.45V422.5z"/><path d="M2163.66 422.5V356.94h.45V422.5z"/><path d="M2164.84 422.5V356.54h.45V422.5z"/><path d="M2166.02 422.5V356.3h.45V422.5z"/><path d="M2167.2 422.5V368.08h.45V422.5z"/><path d="M2168.38 422.5V376.1h.45V422.5z"/><path d="M2169.56 422.5V380.8h.45V422.5z"/><path d="M2170.74 422.5V385.01h.45V422.5z"/><path d="M2171.92 422.5V384.75h.45V422.5z"/><path d="M2173.1 422.5V384.3h.45V422.5z"/><path d="M2174.28 422.5V382.18h.45V422.5z"/><path d="M2175.46 422.5V378.2h.45V422.5z"/><path d="M2176.64 422.5V378.86h.45V422.5z"/><path d="M2177.82 422.5V380.04h.45V422.5z"/><path d="M2179 422.5V380.8h.45V422.5z"/><path d="M2180.18 422.5V387.03h.45V422.5z"/><path d="M2181.36 422.5V391.09h.45V422.5z"/><path d="M2182.54 422.5V395.03h.45V422.5z"/><path d="M2183.72 422.5V396.76h.45V422.5z"/><path d="M2184.9 422.5V397.16h.45V422.5z"/><path d="M2186.08 422.5V397.4h.45V422.5z"/><path d="M2187.25 422.5V402.25h.45V422.5z"/><path d="M2188.43 422.5V405.2h.45V422.5z"/><path d="M2189.61 422.5V408.8h.45V422.5z"/><path d="M2190.79 422.5V411.98h.45V422.5z"/><path d="M2191.97 422.5V412.73h.45V422.5z"/><path d="M2193.15 422.5V413.31h.45V422.5z"/><path d="M2194.33 422.5V413.88h.45V422.5z"/><path d="M2195.51 422.5V414.48h.45V422.5z"/><path d="M2196.69 422.5V415.09h.45V422.5z"/><path d="M2197.87 422.5V415.7h.45V422.5z"/><path d="M2199.05 422.5V416.27h.45V422.5z"/><path d="M2200.23 422.5V416.84h.45V422.5z"/><path d="M2201.41 422.5V417.4h.45V422.5z"/><path d="M2202.59 422.5V418.66h.45V422.5z"/><path d="M2203.77 422.5V419.89h.45V422.5z"/><path d="M2268.64 422.5V423.15h.45V422.5z"/><path d="M2269.82 422.5V424h.45V422.5z"/><path d="M2271 422.5V423.54h.45V422.5z"/><path d="M2272.18 422.5V423.1h.45V422.5z"/><path d="M2291.05 422.5V423.14h.45V422.5z"/><path d="M2292.23 422.5V424h.45V422.5z"/><path d="M2293.41 422.5V424h.45V422.5z"/><path d="M2294.59 422.5V424h.45V422.5z"/><path d="M2295.77 422.5V424h.45V422.5z"/><path d="M2296.95 422.5V424h.45V422.5z"/><path d="M2298.13 422.5V424h.45V422.5z"/><path d="M2299.31 422.5V423.23h.45V422.5z"/></g><rect x="130" y="740" width="2184" height="3" fill="#000" shape-rendering="crispEdges"/><g font-family="&quot;Liberation Sans&quot;, Arial, Helvetica, sans-serif" font-size="24.7" fill="#000" text-anchor="end"><text transform="translate(105.30 113) scale(1 1.075)">120000</text><text transform="translate(105.30 193) scale(1 1.075)">90000</text><text transform="translate(105.30 273) scale(1 1.075)">60000</text><text transform="translate(105.30 353) scale(1 1.075)">30000</text><text transform="translate(105.30 432) scale(1 1.075)">0</text><text transform="translate(104.40 512) scale(1 1.075)">-30000</text><text transform="translate(104.40 592) scale(1 1.075)">-60000</text><text transform="translate(104.40 672) scale(1 1.075)">-90000</text><text transform="translate(104.40 751) scale(1 1.075)">-120000</text></g><g shape-rendering="crispEdges"><rect x="904" y="25" width="20" height="19" fill="url(#lb)"/><rect x="1821" y="25" width="19" height="19" fill="url(#lg)"/></g><rect x="904.5" y="25.5" width="19" height="18" fill="none" stroke="#1f4fb0" stroke-opacity="0.3"/><rect x="1821.5" y="25.5" width="18" height="18" fill="none" stroke="#2a7a1a" stroke-opacity="0.3"/><g font-family="&quot;Liberation Sans&quot;, Arial, Helvetica, sans-serif" font-size="24.7" fill="#000"><text x="938.2" y="44" textLength="198.0" lengthAdjust="spacingAndGlyphs">bmg160_y[mDeg]</text><text x="1854.2" y="44" textLength="198.0" lengthAdjust="spacingAndGlyphs">bmg160_y[mDeg]</text></g></svg></body></html>
